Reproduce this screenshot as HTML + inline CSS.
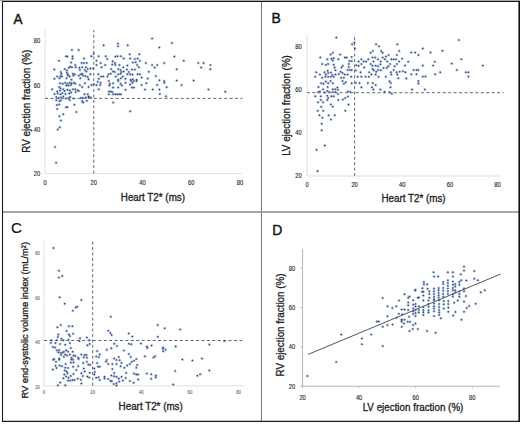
<!DOCTYPE html>
<html><head><meta charset="utf-8"><style>
html,body{margin:0;padding:0;background:#fff;width:520px;height:424px;overflow:hidden}
svg{display:block}
</style></head><body>
<svg width="520" height="424" viewBox="0 0 520 424">
<defs><filter id="bl" x="-10%" y="-10%" width="120%" height="120%"><feGaussianBlur stdDeviation="0.3"/></filter></defs>
<rect x="0" y="0" width="520" height="424" fill="#fff"/>
<line x1="0" y1="0.5" x2="520" y2="0.5" stroke="#aaa" stroke-width="1"/>
<line x1="45" y1="29.5" x2="45" y2="173.5" stroke="#e0e0e0" stroke-width="1"/>
<line x1="45" y1="173.5" x2="242" y2="173.5" stroke="#e0e0e0" stroke-width="1"/>
<text transform="translate(45.0,184.7) scale(0.85,1)" font-family="Liberation Sans, sans-serif" font-size="6.8" fill="#2a2a2a" stroke="#2a2a2a" stroke-width="0.15" text-anchor="middle">0</text>
<text transform="translate(93.8,184.7) scale(0.85,1)" font-family="Liberation Sans, sans-serif" font-size="6.8" fill="#2a2a2a" stroke="#2a2a2a" stroke-width="0.15" text-anchor="middle">20</text>
<text transform="translate(142.5,184.7) scale(0.85,1)" font-family="Liberation Sans, sans-serif" font-size="6.8" fill="#2a2a2a" stroke="#2a2a2a" stroke-width="0.15" text-anchor="middle">40</text>
<text transform="translate(191.2,184.7) scale(0.85,1)" font-family="Liberation Sans, sans-serif" font-size="6.8" fill="#2a2a2a" stroke="#2a2a2a" stroke-width="0.15" text-anchor="middle">60</text>
<text transform="translate(240.0,184.7) scale(0.85,1)" font-family="Liberation Sans, sans-serif" font-size="6.8" fill="#2a2a2a" stroke="#2a2a2a" stroke-width="0.15" text-anchor="middle">80</text>
<text transform="translate(37,175.9) scale(0.85,1)" font-family="Liberation Sans, sans-serif" font-size="6.8" fill="#2a2a2a" stroke="#2a2a2a" stroke-width="0.15" text-anchor="middle">20</text>
<text transform="translate(37,131.8) scale(0.85,1)" font-family="Liberation Sans, sans-serif" font-size="6.8" fill="#2a2a2a" stroke="#2a2a2a" stroke-width="0.15" text-anchor="middle">40</text>
<text transform="translate(37,87.6) scale(0.85,1)" font-family="Liberation Sans, sans-serif" font-size="6.8" fill="#2a2a2a" stroke="#2a2a2a" stroke-width="0.15" text-anchor="middle">60</text>
<text transform="translate(37,43.4) scale(0.85,1)" font-family="Liberation Sans, sans-serif" font-size="6.8" fill="#2a2a2a" stroke="#2a2a2a" stroke-width="0.15" text-anchor="middle">80</text>
<line x1="93.8" y1="173.5" x2="93.8" y2="30.0" stroke="#666" stroke-width="1.0" stroke-dasharray="3.0,2.43"/>
<line x1="45" y1="98.4" x2="242.5" y2="98.4" stroke="#666" stroke-width="1.0" stroke-dasharray="3.0,2.43"/>
<g fill="#6d9ad8" fill-opacity="0.5">
<circle cx="71.9" cy="50.1" r="1.5"/>
<circle cx="78.6" cy="50.1" r="1.5"/>
<circle cx="103.6" cy="45.3" r="1.5"/>
<circle cx="118.0" cy="43.4" r="1.5"/>
<circle cx="118.0" cy="46.3" r="1.5"/>
<circle cx="127.7" cy="45.3" r="1.5"/>
<circle cx="152.1" cy="38.6" r="1.5"/>
<circle cx="171.9" cy="43.0" r="1.5"/>
<circle cx="159.4" cy="47.6" r="1.5"/>
<circle cx="174.4" cy="56.5" r="1.5"/>
<circle cx="183.8" cy="60.7" r="1.5"/>
<circle cx="145.9" cy="63.0" r="1.5"/>
<circle cx="164.2" cy="63.0" r="1.5"/>
<circle cx="152.1" cy="64.9" r="1.5"/>
<circle cx="154.6" cy="67.4" r="1.5"/>
<circle cx="157.1" cy="64.9" r="1.5"/>
<circle cx="198.2" cy="63.0" r="1.5"/>
<circle cx="203.6" cy="63.0" r="1.5"/>
<circle cx="210.3" cy="65.1" r="1.5"/>
<circle cx="201.1" cy="67.4" r="1.5"/>
<circle cx="210.3" cy="69.3" r="1.5"/>
<circle cx="176.7" cy="69.3" r="1.5"/>
<circle cx="148.8" cy="71.8" r="1.5"/>
<circle cx="155.9" cy="76.1" r="1.5"/>
<circle cx="147.8" cy="78.6" r="1.5"/>
<circle cx="159.4" cy="80.3" r="1.5"/>
<circle cx="164.2" cy="80.9" r="1.5"/>
<circle cx="164.2" cy="82.8" r="1.5"/>
<circle cx="176.7" cy="80.5" r="1.5"/>
<circle cx="193.6" cy="80.5" r="1.5"/>
<circle cx="146.3" cy="83.2" r="1.5"/>
<circle cx="157.1" cy="85.1" r="1.5"/>
<circle cx="181.5" cy="85.1" r="1.5"/>
<circle cx="166.7" cy="87.2" r="1.5"/>
<circle cx="145.0" cy="89.5" r="1.5"/>
<circle cx="152.7" cy="89.5" r="1.5"/>
<circle cx="159.4" cy="89.5" r="1.5"/>
<circle cx="208.4" cy="89.5" r="1.5"/>
<circle cx="225.2" cy="91.8" r="1.5"/>
<circle cx="159.8" cy="94.0" r="1.5"/>
<circle cx="166.1" cy="96.3" r="1.5"/>
<circle cx="76.3" cy="111.9" r="1.5"/>
<circle cx="130.2" cy="111.3" r="1.5"/>
<circle cx="59.4" cy="116.2" r="1.5"/>
<circle cx="63.2" cy="114.2" r="1.5"/>
<circle cx="60.9" cy="120.4" r="1.5"/>
<circle cx="59.8" cy="127.3" r="1.5"/>
<circle cx="57.8" cy="129.6" r="1.5"/>
<circle cx="55.0" cy="146.9" r="1.5"/>
<circle cx="56.1" cy="162.7" r="1.5"/>
<circle cx="66.0" cy="56.2" r="1.5"/>
<circle cx="67.4" cy="56.6" r="1.5"/>
<circle cx="72.5" cy="56.2" r="1.5"/>
<circle cx="72.5" cy="58.5" r="1.5"/>
<circle cx="58.9" cy="60.8" r="1.5"/>
<circle cx="84.0" cy="58.5" r="1.5"/>
<circle cx="91.4" cy="56.2" r="1.5"/>
<circle cx="93.7" cy="53.8" r="1.5"/>
<circle cx="71.1" cy="62.6" r="1.5"/>
<circle cx="81.7" cy="63.1" r="1.5"/>
<circle cx="84.0" cy="63.1" r="1.5"/>
<circle cx="86.8" cy="63.1" r="1.5"/>
<circle cx="75.2" cy="64.9" r="1.5"/>
<circle cx="70.2" cy="66.8" r="1.5"/>
<circle cx="68.8" cy="67.7" r="1.5"/>
<circle cx="72.0" cy="67.2" r="1.5"/>
<circle cx="75.7" cy="67.2" r="1.5"/>
<circle cx="79.4" cy="67.7" r="1.5"/>
<circle cx="82.2" cy="67.2" r="1.5"/>
<circle cx="85.9" cy="67.2" r="1.5"/>
<circle cx="87.7" cy="69.1" r="1.5"/>
<circle cx="90.5" cy="68.6" r="1.5"/>
<circle cx="93.2" cy="68.2" r="1.5"/>
<circle cx="54.3" cy="69.4" r="1.5"/>
<circle cx="64.6" cy="69.1" r="1.5"/>
<circle cx="66.9" cy="70.5" r="1.5"/>
<circle cx="79.9" cy="70.0" r="1.5"/>
<circle cx="84.9" cy="70.0" r="1.5"/>
<circle cx="86.3" cy="71.4" r="1.5"/>
<circle cx="60.9" cy="71.9" r="1.5"/>
<circle cx="61.4" cy="73.7" r="1.5"/>
<circle cx="60.5" cy="76.0" r="1.5"/>
<circle cx="61.9" cy="76.5" r="1.5"/>
<circle cx="66.9" cy="72.8" r="1.5"/>
<circle cx="67.9" cy="74.2" r="1.5"/>
<circle cx="67.9" cy="75.5" r="1.5"/>
<circle cx="69.7" cy="76.5" r="1.5"/>
<circle cx="72.9" cy="73.7" r="1.5"/>
<circle cx="74.8" cy="74.2" r="1.5"/>
<circle cx="73.4" cy="75.5" r="1.5"/>
<circle cx="78.9" cy="75.5" r="1.5"/>
<circle cx="80.8" cy="74.2" r="1.5"/>
<circle cx="82.2" cy="73.7" r="1.5"/>
<circle cx="83.1" cy="75.5" r="1.5"/>
<circle cx="85.4" cy="76.0" r="1.5"/>
<circle cx="87.7" cy="76.9" r="1.5"/>
<circle cx="90.5" cy="74.2" r="1.5"/>
<circle cx="57.2" cy="76.5" r="1.5"/>
<circle cx="54.5" cy="78.8" r="1.5"/>
<circle cx="59.5" cy="78.3" r="1.5"/>
<circle cx="66.5" cy="78.3" r="1.5"/>
<circle cx="71.5" cy="79.7" r="1.5"/>
<circle cx="80.3" cy="78.3" r="1.5"/>
<circle cx="88.6" cy="79.2" r="1.5"/>
<circle cx="60.0" cy="83.2" r="1.5"/>
<circle cx="62.8" cy="83.7" r="1.5"/>
<circle cx="65.1" cy="82.8" r="1.5"/>
<circle cx="67.4" cy="83.7" r="1.5"/>
<circle cx="69.7" cy="82.8" r="1.5"/>
<circle cx="71.5" cy="83.2" r="1.5"/>
<circle cx="73.9" cy="82.8" r="1.5"/>
<circle cx="75.2" cy="83.7" r="1.5"/>
<circle cx="66.5" cy="85.5" r="1.5"/>
<circle cx="68.8" cy="85.5" r="1.5"/>
<circle cx="71.1" cy="85.1" r="1.5"/>
<circle cx="79.9" cy="85.1" r="1.5"/>
<circle cx="82.2" cy="86.9" r="1.5"/>
<circle cx="84.9" cy="83.2" r="1.5"/>
<circle cx="88.6" cy="86.9" r="1.5"/>
<circle cx="91.4" cy="85.1" r="1.5"/>
<circle cx="93.7" cy="84.2" r="1.5"/>
<circle cx="59.1" cy="86.9" r="1.5"/>
<circle cx="60.5" cy="88.3" r="1.5"/>
<circle cx="52.2" cy="89.2" r="1.5"/>
<circle cx="57.2" cy="91.5" r="1.5"/>
<circle cx="60.0" cy="90.6" r="1.5"/>
<circle cx="63.2" cy="89.2" r="1.5"/>
<circle cx="64.6" cy="91.1" r="1.5"/>
<circle cx="67.4" cy="89.7" r="1.5"/>
<circle cx="69.7" cy="90.6" r="1.5"/>
<circle cx="72.9" cy="89.2" r="1.5"/>
<circle cx="75.2" cy="89.2" r="1.5"/>
<circle cx="77.5" cy="90.2" r="1.5"/>
<circle cx="78.9" cy="91.1" r="1.5"/>
<circle cx="84.5" cy="94.3" r="1.5"/>
<circle cx="87.7" cy="94.3" r="1.5"/>
<circle cx="88.6" cy="96.6" r="1.5"/>
<circle cx="54.5" cy="93.9" r="1.5"/>
<circle cx="57.7" cy="93.4" r="1.5"/>
<circle cx="60.5" cy="94.3" r="1.5"/>
<circle cx="62.3" cy="92.9" r="1.5"/>
<circle cx="65.5" cy="93.9" r="1.5"/>
<circle cx="69.2" cy="93.4" r="1.5"/>
<circle cx="71.1" cy="92.5" r="1.5"/>
<circle cx="75.7" cy="92.0" r="1.5"/>
<circle cx="56.3" cy="97.1" r="1.5"/>
<circle cx="58.6" cy="98.0" r="1.5"/>
<circle cx="60.9" cy="97.5" r="1.5"/>
<circle cx="63.2" cy="96.6" r="1.5"/>
<circle cx="66.0" cy="98.5" r="1.5"/>
<circle cx="68.8" cy="98.0" r="1.5"/>
<circle cx="70.2" cy="97.1" r="1.5"/>
<circle cx="73.9" cy="98.5" r="1.5"/>
<circle cx="80.8" cy="98.0" r="1.5"/>
<circle cx="82.6" cy="98.0" r="1.5"/>
<circle cx="85.9" cy="97.5" r="1.5"/>
<circle cx="88.6" cy="97.5" r="1.5"/>
<circle cx="90.9" cy="97.5" r="1.5"/>
<circle cx="56.3" cy="100.3" r="1.5"/>
<circle cx="59.5" cy="101.2" r="1.5"/>
<circle cx="60.9" cy="100.3" r="1.5"/>
<circle cx="69.7" cy="99.9" r="1.5"/>
<circle cx="82.2" cy="101.2" r="1.5"/>
<circle cx="83.1" cy="102.6" r="1.5"/>
<circle cx="86.8" cy="100.8" r="1.5"/>
<circle cx="56.8" cy="104.9" r="1.5"/>
<circle cx="59.1" cy="104.5" r="1.5"/>
<circle cx="66.0" cy="107.2" r="1.5"/>
<circle cx="67.4" cy="107.0" r="1.5"/>
<circle cx="74.3" cy="104.7" r="1.5"/>
<circle cx="57.2" cy="109.1" r="1.5"/>
<circle cx="98.6" cy="56.2" r="1.5"/>
<circle cx="105.7" cy="56.2" r="1.5"/>
<circle cx="107.1" cy="58.9" r="1.5"/>
<circle cx="115.4" cy="56.6" r="1.5"/>
<circle cx="117.7" cy="56.2" r="1.5"/>
<circle cx="120.9" cy="56.2" r="1.5"/>
<circle cx="123.7" cy="58.5" r="1.5"/>
<circle cx="129.7" cy="54.3" r="1.5"/>
<circle cx="130.2" cy="58.5" r="1.5"/>
<circle cx="139.4" cy="54.3" r="1.5"/>
<circle cx="134.8" cy="58.9" r="1.5"/>
<circle cx="137.6" cy="58.5" r="1.5"/>
<circle cx="139.9" cy="60.8" r="1.5"/>
<circle cx="132.9" cy="62.6" r="1.5"/>
<circle cx="135.7" cy="62.2" r="1.5"/>
<circle cx="96.5" cy="60.8" r="1.5"/>
<circle cx="100.6" cy="63.1" r="1.5"/>
<circle cx="105.2" cy="64.9" r="1.5"/>
<circle cx="112.6" cy="61.2" r="1.5"/>
<circle cx="112.2" cy="64.5" r="1.5"/>
<circle cx="114.9" cy="63.1" r="1.5"/>
<circle cx="115.4" cy="64.9" r="1.5"/>
<circle cx="119.5" cy="64.9" r="1.5"/>
<circle cx="123.2" cy="67.2" r="1.5"/>
<circle cx="127.4" cy="65.4" r="1.5"/>
<circle cx="137.1" cy="64.9" r="1.5"/>
<circle cx="138.9" cy="67.2" r="1.5"/>
<circle cx="96.5" cy="64.9" r="1.5"/>
<circle cx="101.5" cy="67.2" r="1.5"/>
<circle cx="111.2" cy="69.1" r="1.5"/>
<circle cx="113.1" cy="71.4" r="1.5"/>
<circle cx="114.9" cy="71.9" r="1.5"/>
<circle cx="118.2" cy="69.1" r="1.5"/>
<circle cx="120.5" cy="70.0" r="1.5"/>
<circle cx="121.4" cy="71.9" r="1.5"/>
<circle cx="123.7" cy="71.4" r="1.5"/>
<circle cx="126.9" cy="69.5" r="1.5"/>
<circle cx="128.8" cy="71.9" r="1.5"/>
<circle cx="132.0" cy="69.5" r="1.5"/>
<circle cx="134.8" cy="69.5" r="1.5"/>
<circle cx="137.6" cy="74.2" r="1.5"/>
<circle cx="139.9" cy="74.2" r="1.5"/>
<circle cx="98.3" cy="74.2" r="1.5"/>
<circle cx="101.1" cy="76.5" r="1.5"/>
<circle cx="103.4" cy="76.5" r="1.5"/>
<circle cx="107.5" cy="76.5" r="1.5"/>
<circle cx="108.5" cy="74.2" r="1.5"/>
<circle cx="110.8" cy="73.7" r="1.5"/>
<circle cx="115.9" cy="76.5" r="1.5"/>
<circle cx="118.2" cy="74.2" r="1.5"/>
<circle cx="120.5" cy="73.7" r="1.5"/>
<circle cx="122.8" cy="76.5" r="1.5"/>
<circle cx="127.4" cy="74.2" r="1.5"/>
<circle cx="130.2" cy="74.2" r="1.5"/>
<circle cx="132.5" cy="74.6" r="1.5"/>
<circle cx="98.8" cy="78.8" r="1.5"/>
<circle cx="118.2" cy="79.7" r="1.5"/>
<circle cx="120.9" cy="78.3" r="1.5"/>
<circle cx="125.5" cy="78.8" r="1.5"/>
<circle cx="130.6" cy="79.7" r="1.5"/>
<circle cx="132.9" cy="79.2" r="1.5"/>
<circle cx="136.6" cy="79.7" r="1.5"/>
<circle cx="141.7" cy="77.4" r="1.5"/>
<circle cx="97.8" cy="81.8" r="1.5"/>
<circle cx="100.6" cy="82.8" r="1.5"/>
<circle cx="100.2" cy="85.1" r="1.5"/>
<circle cx="96.5" cy="85.1" r="1.5"/>
<circle cx="98.8" cy="89.2" r="1.5"/>
<circle cx="108.9" cy="80.9" r="1.5"/>
<circle cx="109.9" cy="83.7" r="1.5"/>
<circle cx="109.4" cy="85.5" r="1.5"/>
<circle cx="113.1" cy="83.2" r="1.5"/>
<circle cx="113.1" cy="87.4" r="1.5"/>
<circle cx="118.2" cy="80.9" r="1.5"/>
<circle cx="118.2" cy="87.4" r="1.5"/>
<circle cx="120.5" cy="83.7" r="1.5"/>
<circle cx="121.9" cy="85.5" r="1.5"/>
<circle cx="125.5" cy="82.8" r="1.5"/>
<circle cx="125.5" cy="89.7" r="1.5"/>
<circle cx="130.2" cy="84.6" r="1.5"/>
<circle cx="132.0" cy="87.4" r="1.5"/>
<circle cx="133.9" cy="87.4" r="1.5"/>
<circle cx="131.1" cy="80.9" r="1.5"/>
<circle cx="133.9" cy="80.9" r="1.5"/>
<circle cx="136.6" cy="80.9" r="1.5"/>
<circle cx="132.5" cy="82.8" r="1.5"/>
<circle cx="141.7" cy="85.1" r="1.5"/>
<circle cx="108.9" cy="91.5" r="1.5"/>
<circle cx="110.8" cy="91.5" r="1.5"/>
<circle cx="112.2" cy="92.0" r="1.5"/>
<circle cx="108.9" cy="94.3" r="1.5"/>
<circle cx="113.1" cy="94.3" r="1.5"/>
<circle cx="115.4" cy="94.3" r="1.5"/>
<circle cx="117.2" cy="94.3" r="1.5"/>
<circle cx="119.1" cy="94.3" r="1.5"/>
<circle cx="120.9" cy="94.3" r="1.5"/>
<circle cx="113.1" cy="102.6" r="1.5"/>
</g>
<g fill="#2e3850" filter="url(#bl)">
<circle cx="71.9" cy="50.1" r="0.75"/>
<circle cx="78.6" cy="50.1" r="0.75"/>
<circle cx="103.6" cy="45.3" r="0.75"/>
<circle cx="118.0" cy="43.4" r="0.75"/>
<circle cx="118.0" cy="46.3" r="0.75"/>
<circle cx="127.7" cy="45.3" r="0.75"/>
<circle cx="152.1" cy="38.6" r="0.75"/>
<circle cx="171.9" cy="43.0" r="0.75"/>
<circle cx="159.4" cy="47.6" r="0.75"/>
<circle cx="174.4" cy="56.5" r="0.75"/>
<circle cx="183.8" cy="60.7" r="0.75"/>
<circle cx="145.9" cy="63.0" r="0.75"/>
<circle cx="164.2" cy="63.0" r="0.75"/>
<circle cx="152.1" cy="64.9" r="0.75"/>
<circle cx="154.6" cy="67.4" r="0.75"/>
<circle cx="157.1" cy="64.9" r="0.75"/>
<circle cx="198.2" cy="63.0" r="0.75"/>
<circle cx="203.6" cy="63.0" r="0.75"/>
<circle cx="210.3" cy="65.1" r="0.75"/>
<circle cx="201.1" cy="67.4" r="0.75"/>
<circle cx="210.3" cy="69.3" r="0.75"/>
<circle cx="176.7" cy="69.3" r="0.75"/>
<circle cx="148.8" cy="71.8" r="0.75"/>
<circle cx="155.9" cy="76.1" r="0.75"/>
<circle cx="147.8" cy="78.6" r="0.75"/>
<circle cx="159.4" cy="80.3" r="0.75"/>
<circle cx="164.2" cy="80.9" r="0.75"/>
<circle cx="164.2" cy="82.8" r="0.75"/>
<circle cx="176.7" cy="80.5" r="0.75"/>
<circle cx="193.6" cy="80.5" r="0.75"/>
<circle cx="146.3" cy="83.2" r="0.75"/>
<circle cx="157.1" cy="85.1" r="0.75"/>
<circle cx="181.5" cy="85.1" r="0.75"/>
<circle cx="166.7" cy="87.2" r="0.75"/>
<circle cx="145.0" cy="89.5" r="0.75"/>
<circle cx="152.7" cy="89.5" r="0.75"/>
<circle cx="159.4" cy="89.5" r="0.75"/>
<circle cx="208.4" cy="89.5" r="0.75"/>
<circle cx="225.2" cy="91.8" r="0.75"/>
<circle cx="159.8" cy="94.0" r="0.75"/>
<circle cx="166.1" cy="96.3" r="0.75"/>
<circle cx="76.3" cy="111.9" r="0.75"/>
<circle cx="130.2" cy="111.3" r="0.75"/>
<circle cx="59.4" cy="116.2" r="0.75"/>
<circle cx="63.2" cy="114.2" r="0.75"/>
<circle cx="60.9" cy="120.4" r="0.75"/>
<circle cx="59.8" cy="127.3" r="0.75"/>
<circle cx="57.8" cy="129.6" r="0.75"/>
<circle cx="55.0" cy="146.9" r="0.75"/>
<circle cx="56.1" cy="162.7" r="0.75"/>
<circle cx="66.0" cy="56.2" r="0.75"/>
<circle cx="67.4" cy="56.6" r="0.75"/>
<circle cx="72.5" cy="56.2" r="0.75"/>
<circle cx="72.5" cy="58.5" r="0.75"/>
<circle cx="58.9" cy="60.8" r="0.75"/>
<circle cx="84.0" cy="58.5" r="0.75"/>
<circle cx="91.4" cy="56.2" r="0.75"/>
<circle cx="93.7" cy="53.8" r="0.75"/>
<circle cx="71.1" cy="62.6" r="0.75"/>
<circle cx="81.7" cy="63.1" r="0.75"/>
<circle cx="84.0" cy="63.1" r="0.75"/>
<circle cx="86.8" cy="63.1" r="0.75"/>
<circle cx="75.2" cy="64.9" r="0.75"/>
<circle cx="70.2" cy="66.8" r="0.75"/>
<circle cx="68.8" cy="67.7" r="0.75"/>
<circle cx="72.0" cy="67.2" r="0.75"/>
<circle cx="75.7" cy="67.2" r="0.75"/>
<circle cx="79.4" cy="67.7" r="0.75"/>
<circle cx="82.2" cy="67.2" r="0.75"/>
<circle cx="85.9" cy="67.2" r="0.75"/>
<circle cx="87.7" cy="69.1" r="0.75"/>
<circle cx="90.5" cy="68.6" r="0.75"/>
<circle cx="93.2" cy="68.2" r="0.75"/>
<circle cx="54.3" cy="69.4" r="0.75"/>
<circle cx="64.6" cy="69.1" r="0.75"/>
<circle cx="66.9" cy="70.5" r="0.75"/>
<circle cx="79.9" cy="70.0" r="0.75"/>
<circle cx="84.9" cy="70.0" r="0.75"/>
<circle cx="86.3" cy="71.4" r="0.75"/>
<circle cx="60.9" cy="71.9" r="0.75"/>
<circle cx="61.4" cy="73.7" r="0.75"/>
<circle cx="60.5" cy="76.0" r="0.75"/>
<circle cx="61.9" cy="76.5" r="0.75"/>
<circle cx="66.9" cy="72.8" r="0.75"/>
<circle cx="67.9" cy="74.2" r="0.75"/>
<circle cx="67.9" cy="75.5" r="0.75"/>
<circle cx="69.7" cy="76.5" r="0.75"/>
<circle cx="72.9" cy="73.7" r="0.75"/>
<circle cx="74.8" cy="74.2" r="0.75"/>
<circle cx="73.4" cy="75.5" r="0.75"/>
<circle cx="78.9" cy="75.5" r="0.75"/>
<circle cx="80.8" cy="74.2" r="0.75"/>
<circle cx="82.2" cy="73.7" r="0.75"/>
<circle cx="83.1" cy="75.5" r="0.75"/>
<circle cx="85.4" cy="76.0" r="0.75"/>
<circle cx="87.7" cy="76.9" r="0.75"/>
<circle cx="90.5" cy="74.2" r="0.75"/>
<circle cx="57.2" cy="76.5" r="0.75"/>
<circle cx="54.5" cy="78.8" r="0.75"/>
<circle cx="59.5" cy="78.3" r="0.75"/>
<circle cx="66.5" cy="78.3" r="0.75"/>
<circle cx="71.5" cy="79.7" r="0.75"/>
<circle cx="80.3" cy="78.3" r="0.75"/>
<circle cx="88.6" cy="79.2" r="0.75"/>
<circle cx="60.0" cy="83.2" r="0.75"/>
<circle cx="62.8" cy="83.7" r="0.75"/>
<circle cx="65.1" cy="82.8" r="0.75"/>
<circle cx="67.4" cy="83.7" r="0.75"/>
<circle cx="69.7" cy="82.8" r="0.75"/>
<circle cx="71.5" cy="83.2" r="0.75"/>
<circle cx="73.9" cy="82.8" r="0.75"/>
<circle cx="75.2" cy="83.7" r="0.75"/>
<circle cx="66.5" cy="85.5" r="0.75"/>
<circle cx="68.8" cy="85.5" r="0.75"/>
<circle cx="71.1" cy="85.1" r="0.75"/>
<circle cx="79.9" cy="85.1" r="0.75"/>
<circle cx="82.2" cy="86.9" r="0.75"/>
<circle cx="84.9" cy="83.2" r="0.75"/>
<circle cx="88.6" cy="86.9" r="0.75"/>
<circle cx="91.4" cy="85.1" r="0.75"/>
<circle cx="93.7" cy="84.2" r="0.75"/>
<circle cx="59.1" cy="86.9" r="0.75"/>
<circle cx="60.5" cy="88.3" r="0.75"/>
<circle cx="52.2" cy="89.2" r="0.75"/>
<circle cx="57.2" cy="91.5" r="0.75"/>
<circle cx="60.0" cy="90.6" r="0.75"/>
<circle cx="63.2" cy="89.2" r="0.75"/>
<circle cx="64.6" cy="91.1" r="0.75"/>
<circle cx="67.4" cy="89.7" r="0.75"/>
<circle cx="69.7" cy="90.6" r="0.75"/>
<circle cx="72.9" cy="89.2" r="0.75"/>
<circle cx="75.2" cy="89.2" r="0.75"/>
<circle cx="77.5" cy="90.2" r="0.75"/>
<circle cx="78.9" cy="91.1" r="0.75"/>
<circle cx="84.5" cy="94.3" r="0.75"/>
<circle cx="87.7" cy="94.3" r="0.75"/>
<circle cx="88.6" cy="96.6" r="0.75"/>
<circle cx="54.5" cy="93.9" r="0.75"/>
<circle cx="57.7" cy="93.4" r="0.75"/>
<circle cx="60.5" cy="94.3" r="0.75"/>
<circle cx="62.3" cy="92.9" r="0.75"/>
<circle cx="65.5" cy="93.9" r="0.75"/>
<circle cx="69.2" cy="93.4" r="0.75"/>
<circle cx="71.1" cy="92.5" r="0.75"/>
<circle cx="75.7" cy="92.0" r="0.75"/>
<circle cx="56.3" cy="97.1" r="0.75"/>
<circle cx="58.6" cy="98.0" r="0.75"/>
<circle cx="60.9" cy="97.5" r="0.75"/>
<circle cx="63.2" cy="96.6" r="0.75"/>
<circle cx="66.0" cy="98.5" r="0.75"/>
<circle cx="68.8" cy="98.0" r="0.75"/>
<circle cx="70.2" cy="97.1" r="0.75"/>
<circle cx="73.9" cy="98.5" r="0.75"/>
<circle cx="80.8" cy="98.0" r="0.75"/>
<circle cx="82.6" cy="98.0" r="0.75"/>
<circle cx="85.9" cy="97.5" r="0.75"/>
<circle cx="88.6" cy="97.5" r="0.75"/>
<circle cx="90.9" cy="97.5" r="0.75"/>
<circle cx="56.3" cy="100.3" r="0.75"/>
<circle cx="59.5" cy="101.2" r="0.75"/>
<circle cx="60.9" cy="100.3" r="0.75"/>
<circle cx="69.7" cy="99.9" r="0.75"/>
<circle cx="82.2" cy="101.2" r="0.75"/>
<circle cx="83.1" cy="102.6" r="0.75"/>
<circle cx="86.8" cy="100.8" r="0.75"/>
<circle cx="56.8" cy="104.9" r="0.75"/>
<circle cx="59.1" cy="104.5" r="0.75"/>
<circle cx="66.0" cy="107.2" r="0.75"/>
<circle cx="67.4" cy="107.0" r="0.75"/>
<circle cx="74.3" cy="104.7" r="0.75"/>
<circle cx="57.2" cy="109.1" r="0.75"/>
<circle cx="98.6" cy="56.2" r="0.75"/>
<circle cx="105.7" cy="56.2" r="0.75"/>
<circle cx="107.1" cy="58.9" r="0.75"/>
<circle cx="115.4" cy="56.6" r="0.75"/>
<circle cx="117.7" cy="56.2" r="0.75"/>
<circle cx="120.9" cy="56.2" r="0.75"/>
<circle cx="123.7" cy="58.5" r="0.75"/>
<circle cx="129.7" cy="54.3" r="0.75"/>
<circle cx="130.2" cy="58.5" r="0.75"/>
<circle cx="139.4" cy="54.3" r="0.75"/>
<circle cx="134.8" cy="58.9" r="0.75"/>
<circle cx="137.6" cy="58.5" r="0.75"/>
<circle cx="139.9" cy="60.8" r="0.75"/>
<circle cx="132.9" cy="62.6" r="0.75"/>
<circle cx="135.7" cy="62.2" r="0.75"/>
<circle cx="96.5" cy="60.8" r="0.75"/>
<circle cx="100.6" cy="63.1" r="0.75"/>
<circle cx="105.2" cy="64.9" r="0.75"/>
<circle cx="112.6" cy="61.2" r="0.75"/>
<circle cx="112.2" cy="64.5" r="0.75"/>
<circle cx="114.9" cy="63.1" r="0.75"/>
<circle cx="115.4" cy="64.9" r="0.75"/>
<circle cx="119.5" cy="64.9" r="0.75"/>
<circle cx="123.2" cy="67.2" r="0.75"/>
<circle cx="127.4" cy="65.4" r="0.75"/>
<circle cx="137.1" cy="64.9" r="0.75"/>
<circle cx="138.9" cy="67.2" r="0.75"/>
<circle cx="96.5" cy="64.9" r="0.75"/>
<circle cx="101.5" cy="67.2" r="0.75"/>
<circle cx="111.2" cy="69.1" r="0.75"/>
<circle cx="113.1" cy="71.4" r="0.75"/>
<circle cx="114.9" cy="71.9" r="0.75"/>
<circle cx="118.2" cy="69.1" r="0.75"/>
<circle cx="120.5" cy="70.0" r="0.75"/>
<circle cx="121.4" cy="71.9" r="0.75"/>
<circle cx="123.7" cy="71.4" r="0.75"/>
<circle cx="126.9" cy="69.5" r="0.75"/>
<circle cx="128.8" cy="71.9" r="0.75"/>
<circle cx="132.0" cy="69.5" r="0.75"/>
<circle cx="134.8" cy="69.5" r="0.75"/>
<circle cx="137.6" cy="74.2" r="0.75"/>
<circle cx="139.9" cy="74.2" r="0.75"/>
<circle cx="98.3" cy="74.2" r="0.75"/>
<circle cx="101.1" cy="76.5" r="0.75"/>
<circle cx="103.4" cy="76.5" r="0.75"/>
<circle cx="107.5" cy="76.5" r="0.75"/>
<circle cx="108.5" cy="74.2" r="0.75"/>
<circle cx="110.8" cy="73.7" r="0.75"/>
<circle cx="115.9" cy="76.5" r="0.75"/>
<circle cx="118.2" cy="74.2" r="0.75"/>
<circle cx="120.5" cy="73.7" r="0.75"/>
<circle cx="122.8" cy="76.5" r="0.75"/>
<circle cx="127.4" cy="74.2" r="0.75"/>
<circle cx="130.2" cy="74.2" r="0.75"/>
<circle cx="132.5" cy="74.6" r="0.75"/>
<circle cx="98.8" cy="78.8" r="0.75"/>
<circle cx="118.2" cy="79.7" r="0.75"/>
<circle cx="120.9" cy="78.3" r="0.75"/>
<circle cx="125.5" cy="78.8" r="0.75"/>
<circle cx="130.6" cy="79.7" r="0.75"/>
<circle cx="132.9" cy="79.2" r="0.75"/>
<circle cx="136.6" cy="79.7" r="0.75"/>
<circle cx="141.7" cy="77.4" r="0.75"/>
<circle cx="97.8" cy="81.8" r="0.75"/>
<circle cx="100.6" cy="82.8" r="0.75"/>
<circle cx="100.2" cy="85.1" r="0.75"/>
<circle cx="96.5" cy="85.1" r="0.75"/>
<circle cx="98.8" cy="89.2" r="0.75"/>
<circle cx="108.9" cy="80.9" r="0.75"/>
<circle cx="109.9" cy="83.7" r="0.75"/>
<circle cx="109.4" cy="85.5" r="0.75"/>
<circle cx="113.1" cy="83.2" r="0.75"/>
<circle cx="113.1" cy="87.4" r="0.75"/>
<circle cx="118.2" cy="80.9" r="0.75"/>
<circle cx="118.2" cy="87.4" r="0.75"/>
<circle cx="120.5" cy="83.7" r="0.75"/>
<circle cx="121.9" cy="85.5" r="0.75"/>
<circle cx="125.5" cy="82.8" r="0.75"/>
<circle cx="125.5" cy="89.7" r="0.75"/>
<circle cx="130.2" cy="84.6" r="0.75"/>
<circle cx="132.0" cy="87.4" r="0.75"/>
<circle cx="133.9" cy="87.4" r="0.75"/>
<circle cx="131.1" cy="80.9" r="0.75"/>
<circle cx="133.9" cy="80.9" r="0.75"/>
<circle cx="136.6" cy="80.9" r="0.75"/>
<circle cx="132.5" cy="82.8" r="0.75"/>
<circle cx="141.7" cy="85.1" r="0.75"/>
<circle cx="108.9" cy="91.5" r="0.75"/>
<circle cx="110.8" cy="91.5" r="0.75"/>
<circle cx="112.2" cy="92.0" r="0.75"/>
<circle cx="108.9" cy="94.3" r="0.75"/>
<circle cx="113.1" cy="94.3" r="0.75"/>
<circle cx="115.4" cy="94.3" r="0.75"/>
<circle cx="117.2" cy="94.3" r="0.75"/>
<circle cx="119.1" cy="94.3" r="0.75"/>
<circle cx="120.9" cy="94.3" r="0.75"/>
<circle cx="113.1" cy="102.6" r="0.75"/>
</g>
<text transform="translate(13.6,24.2) scale(0.88,1)" font-family="Liberation Sans, sans-serif" font-size="15.4" fill="#111" stroke="#111" stroke-width="0.45">A</text>
<text transform="translate(152.9,200.8) scale(0.91,1)" font-family="Liberation Sans, sans-serif" font-size="10.8" fill="#1e1e1e" stroke="#1e1e1e" stroke-width="0.32" text-anchor="middle">Heart T2* (ms)</text>
<text transform="translate(29.5,101.3) rotate(-90) scale(0.91,1)" font-family="Liberation Sans, sans-serif" font-size="10.8" fill="#1e1e1e" stroke="#1e1e1e" stroke-width="0.32" text-anchor="middle">RV ejection fraction (%)</text>
<line x1="307.0" y1="34" x2="307.0" y2="176.0" stroke="#e0e0e0" stroke-width="1"/>
<line x1="307.0" y1="176.0" x2="500" y2="176.0" stroke="#e0e0e0" stroke-width="1"/>
<text transform="translate(307.0,186.7) scale(0.85,1)" font-family="Liberation Sans, sans-serif" font-size="6.8" fill="#2a2a2a" stroke="#2a2a2a" stroke-width="0.15" text-anchor="middle">0</text>
<text transform="translate(354.6,186.7) scale(0.85,1)" font-family="Liberation Sans, sans-serif" font-size="6.8" fill="#2a2a2a" stroke="#2a2a2a" stroke-width="0.15" text-anchor="middle">20</text>
<text transform="translate(402.2,186.7) scale(0.85,1)" font-family="Liberation Sans, sans-serif" font-size="6.8" fill="#2a2a2a" stroke="#2a2a2a" stroke-width="0.15" text-anchor="middle">40</text>
<text transform="translate(449.9,186.7) scale(0.85,1)" font-family="Liberation Sans, sans-serif" font-size="6.8" fill="#2a2a2a" stroke="#2a2a2a" stroke-width="0.15" text-anchor="middle">60</text>
<text transform="translate(497.5,186.7) scale(0.85,1)" font-family="Liberation Sans, sans-serif" font-size="6.8" fill="#2a2a2a" stroke="#2a2a2a" stroke-width="0.15" text-anchor="middle">80</text>
<text transform="translate(298.5,178.4) scale(0.85,1)" font-family="Liberation Sans, sans-serif" font-size="6.8" fill="#2a2a2a" stroke="#2a2a2a" stroke-width="0.15" text-anchor="middle">20</text>
<text transform="translate(298.5,135.2) scale(0.85,1)" font-family="Liberation Sans, sans-serif" font-size="6.8" fill="#2a2a2a" stroke="#2a2a2a" stroke-width="0.15" text-anchor="middle">40</text>
<text transform="translate(298.5,92.0) scale(0.85,1)" font-family="Liberation Sans, sans-serif" font-size="6.8" fill="#2a2a2a" stroke="#2a2a2a" stroke-width="0.15" text-anchor="middle">60</text>
<text transform="translate(298.5,48.7) scale(0.85,1)" font-family="Liberation Sans, sans-serif" font-size="6.8" fill="#2a2a2a" stroke="#2a2a2a" stroke-width="0.15" text-anchor="middle">80</text>
<line x1="354.6" y1="176.0" x2="354.6" y2="34.5" stroke="#666" stroke-width="1.0" stroke-dasharray="3.0,2.43"/>
<line x1="307.0" y1="92.7" x2="503.5" y2="92.7" stroke="#666" stroke-width="1.0" stroke-dasharray="3.0,2.43"/>
<g fill="#6d9ad8" fill-opacity="0.5">
<circle cx="336.3" cy="37.6" r="1.5"/>
<circle cx="352.1" cy="44.3" r="1.5"/>
<circle cx="354.4" cy="42.4" r="1.5"/>
<circle cx="355.0" cy="48.2" r="1.5"/>
<circle cx="376.1" cy="44.3" r="1.5"/>
<circle cx="379.0" cy="46.3" r="1.5"/>
<circle cx="397.3" cy="44.3" r="1.5"/>
<circle cx="402.1" cy="58.8" r="1.5"/>
<circle cx="403.0" cy="71.3" r="1.5"/>
<circle cx="458.8" cy="39.9" r="1.5"/>
<circle cx="422.8" cy="48.6" r="1.5"/>
<circle cx="411.3" cy="52.6" r="1.5"/>
<circle cx="415.2" cy="52.6" r="1.5"/>
<circle cx="418.4" cy="54.9" r="1.5"/>
<circle cx="430.5" cy="52.6" r="1.5"/>
<circle cx="442.5" cy="50.7" r="1.5"/>
<circle cx="461.3" cy="59.2" r="1.5"/>
<circle cx="408.2" cy="61.7" r="1.5"/>
<circle cx="434.8" cy="61.7" r="1.5"/>
<circle cx="451.7" cy="63.6" r="1.5"/>
<circle cx="405.0" cy="65.5" r="1.5"/>
<circle cx="422.8" cy="65.5" r="1.5"/>
<circle cx="433.2" cy="65.5" r="1.5"/>
<circle cx="482.8" cy="65.5" r="1.5"/>
<circle cx="413.6" cy="69.9" r="1.5"/>
<circle cx="416.5" cy="69.9" r="1.5"/>
<circle cx="418.4" cy="69.9" r="1.5"/>
<circle cx="456.9" cy="69.9" r="1.5"/>
<circle cx="405.5" cy="72.2" r="1.5"/>
<circle cx="411.3" cy="74.2" r="1.5"/>
<circle cx="416.5" cy="74.2" r="1.5"/>
<circle cx="435.2" cy="74.2" r="1.5"/>
<circle cx="440.2" cy="72.2" r="1.5"/>
<circle cx="465.9" cy="72.2" r="1.5"/>
<circle cx="468.4" cy="72.2" r="1.5"/>
<circle cx="406.3" cy="78.4" r="1.5"/>
<circle cx="422.8" cy="76.5" r="1.5"/>
<circle cx="425.5" cy="76.5" r="1.5"/>
<circle cx="468.4" cy="76.5" r="1.5"/>
<circle cx="418.4" cy="80.9" r="1.5"/>
<circle cx="418.4" cy="83.4" r="1.5"/>
<circle cx="412.1" cy="89.5" r="1.5"/>
<circle cx="424.8" cy="89.5" r="1.5"/>
<circle cx="317.8" cy="110.8" r="1.5"/>
<circle cx="323.2" cy="110.8" r="1.5"/>
<circle cx="345.3" cy="110.8" r="1.5"/>
<circle cx="319.4" cy="115.2" r="1.5"/>
<circle cx="322.3" cy="117.7" r="1.5"/>
<circle cx="328.6" cy="115.2" r="1.5"/>
<circle cx="334.8" cy="115.2" r="1.5"/>
<circle cx="330.9" cy="119.6" r="1.5"/>
<circle cx="321.7" cy="123.8" r="1.5"/>
<circle cx="321.7" cy="130.2" r="1.5"/>
<circle cx="324.8" cy="145.4" r="1.5"/>
<circle cx="316.5" cy="149.8" r="1.5"/>
<circle cx="317.5" cy="171.0" r="1.5"/>
<circle cx="332.8" cy="52.8" r="1.5"/>
<circle cx="330.5" cy="54.6" r="1.5"/>
<circle cx="340.2" cy="54.6" r="1.5"/>
<circle cx="320.3" cy="57.4" r="1.5"/>
<circle cx="327.2" cy="59.2" r="1.5"/>
<circle cx="331.4" cy="58.8" r="1.5"/>
<circle cx="333.7" cy="58.3" r="1.5"/>
<circle cx="332.8" cy="60.6" r="1.5"/>
<circle cx="338.3" cy="59.2" r="1.5"/>
<circle cx="344.8" cy="57.4" r="1.5"/>
<circle cx="346.6" cy="57.4" r="1.5"/>
<circle cx="351.7" cy="56.9" r="1.5"/>
<circle cx="322.2" cy="63.9" r="1.5"/>
<circle cx="325.9" cy="64.8" r="1.5"/>
<circle cx="328.2" cy="63.9" r="1.5"/>
<circle cx="333.7" cy="64.8" r="1.5"/>
<circle cx="334.6" cy="67.5" r="1.5"/>
<circle cx="341.5" cy="67.5" r="1.5"/>
<circle cx="342.9" cy="65.7" r="1.5"/>
<circle cx="348.9" cy="63.9" r="1.5"/>
<circle cx="349.4" cy="61.1" r="1.5"/>
<circle cx="351.7" cy="61.1" r="1.5"/>
<circle cx="347.6" cy="69.9" r="1.5"/>
<circle cx="349.9" cy="69.9" r="1.5"/>
<circle cx="351.7" cy="69.9" r="1.5"/>
<circle cx="348.9" cy="67.1" r="1.5"/>
<circle cx="316.2" cy="72.2" r="1.5"/>
<circle cx="319.9" cy="74.5" r="1.5"/>
<circle cx="324.5" cy="72.2" r="1.5"/>
<circle cx="325.9" cy="74.5" r="1.5"/>
<circle cx="327.7" cy="70.8" r="1.5"/>
<circle cx="328.2" cy="73.1" r="1.5"/>
<circle cx="330.9" cy="72.6" r="1.5"/>
<circle cx="332.3" cy="74.9" r="1.5"/>
<circle cx="335.5" cy="74.5" r="1.5"/>
<circle cx="335.5" cy="70.3" r="1.5"/>
<circle cx="338.8" cy="74.0" r="1.5"/>
<circle cx="340.6" cy="71.7" r="1.5"/>
<circle cx="342.5" cy="73.1" r="1.5"/>
<circle cx="344.8" cy="74.5" r="1.5"/>
<circle cx="347.6" cy="74.5" r="1.5"/>
<circle cx="351.2" cy="76.8" r="1.5"/>
<circle cx="315.2" cy="76.8" r="1.5"/>
<circle cx="322.2" cy="77.7" r="1.5"/>
<circle cx="325.4" cy="76.8" r="1.5"/>
<circle cx="328.2" cy="76.8" r="1.5"/>
<circle cx="330.9" cy="76.8" r="1.5"/>
<circle cx="333.7" cy="76.8" r="1.5"/>
<circle cx="341.1" cy="77.7" r="1.5"/>
<circle cx="343.9" cy="77.7" r="1.5"/>
<circle cx="321.2" cy="83.2" r="1.5"/>
<circle cx="323.5" cy="83.7" r="1.5"/>
<circle cx="325.9" cy="81.4" r="1.5"/>
<circle cx="328.2" cy="83.2" r="1.5"/>
<circle cx="330.5" cy="80.9" r="1.5"/>
<circle cx="332.8" cy="83.2" r="1.5"/>
<circle cx="342.5" cy="80.9" r="1.5"/>
<circle cx="343.9" cy="83.7" r="1.5"/>
<circle cx="345.7" cy="82.3" r="1.5"/>
<circle cx="351.7" cy="83.2" r="1.5"/>
<circle cx="318.5" cy="86.9" r="1.5"/>
<circle cx="323.1" cy="89.2" r="1.5"/>
<circle cx="327.7" cy="86.9" r="1.5"/>
<circle cx="332.8" cy="89.2" r="1.5"/>
<circle cx="335.1" cy="89.2" r="1.5"/>
<circle cx="337.4" cy="87.4" r="1.5"/>
<circle cx="337.9" cy="89.7" r="1.5"/>
<circle cx="318.0" cy="92.0" r="1.5"/>
<circle cx="319.9" cy="91.5" r="1.5"/>
<circle cx="324.5" cy="92.5" r="1.5"/>
<circle cx="327.2" cy="91.1" r="1.5"/>
<circle cx="329.1" cy="92.0" r="1.5"/>
<circle cx="332.8" cy="92.0" r="1.5"/>
<circle cx="335.5" cy="92.0" r="1.5"/>
<circle cx="337.9" cy="93.9" r="1.5"/>
<circle cx="348.0" cy="91.5" r="1.5"/>
<circle cx="350.3" cy="92.0" r="1.5"/>
<circle cx="315.2" cy="96.2" r="1.5"/>
<circle cx="320.8" cy="96.2" r="1.5"/>
<circle cx="327.2" cy="95.7" r="1.5"/>
<circle cx="331.4" cy="96.2" r="1.5"/>
<circle cx="333.7" cy="96.2" r="1.5"/>
<circle cx="328.2" cy="98.0" r="1.5"/>
<circle cx="345.2" cy="98.0" r="1.5"/>
<circle cx="348.0" cy="96.6" r="1.5"/>
<circle cx="320.8" cy="99.9" r="1.5"/>
<circle cx="327.2" cy="99.9" r="1.5"/>
<circle cx="338.3" cy="99.9" r="1.5"/>
<circle cx="342.9" cy="99.4" r="1.5"/>
<circle cx="318.0" cy="102.2" r="1.5"/>
<circle cx="323.1" cy="102.2" r="1.5"/>
<circle cx="330.9" cy="104.5" r="1.5"/>
<circle cx="332.8" cy="106.8" r="1.5"/>
<circle cx="321.2" cy="106.8" r="1.5"/>
<circle cx="348.5" cy="104.5" r="1.5"/>
<circle cx="370.6" cy="52.8" r="1.5"/>
<circle cx="372.9" cy="50.9" r="1.5"/>
<circle cx="381.2" cy="50.9" r="1.5"/>
<circle cx="382.6" cy="52.8" r="1.5"/>
<circle cx="399.2" cy="50.9" r="1.5"/>
<circle cx="396.9" cy="55.1" r="1.5"/>
<circle cx="361.4" cy="59.2" r="1.5"/>
<circle cx="368.3" cy="59.2" r="1.5"/>
<circle cx="372.5" cy="57.4" r="1.5"/>
<circle cx="375.2" cy="57.4" r="1.5"/>
<circle cx="378.0" cy="59.2" r="1.5"/>
<circle cx="382.6" cy="57.4" r="1.5"/>
<circle cx="385.9" cy="56.5" r="1.5"/>
<circle cx="388.6" cy="55.1" r="1.5"/>
<circle cx="384.9" cy="59.2" r="1.5"/>
<circle cx="391.4" cy="59.2" r="1.5"/>
<circle cx="393.7" cy="59.2" r="1.5"/>
<circle cx="396.0" cy="59.2" r="1.5"/>
<circle cx="399.2" cy="61.5" r="1.5"/>
<circle cx="358.6" cy="61.5" r="1.5"/>
<circle cx="363.7" cy="61.5" r="1.5"/>
<circle cx="366.0" cy="61.5" r="1.5"/>
<circle cx="373.4" cy="61.5" r="1.5"/>
<circle cx="370.6" cy="63.9" r="1.5"/>
<circle cx="380.8" cy="61.5" r="1.5"/>
<circle cx="387.2" cy="61.5" r="1.5"/>
<circle cx="396.9" cy="63.9" r="1.5"/>
<circle cx="356.3" cy="65.2" r="1.5"/>
<circle cx="358.6" cy="65.7" r="1.5"/>
<circle cx="361.4" cy="63.9" r="1.5"/>
<circle cx="364.2" cy="67.5" r="1.5"/>
<circle cx="372.5" cy="65.7" r="1.5"/>
<circle cx="375.7" cy="65.7" r="1.5"/>
<circle cx="378.0" cy="66.2" r="1.5"/>
<circle cx="380.3" cy="64.3" r="1.5"/>
<circle cx="383.5" cy="68.0" r="1.5"/>
<circle cx="388.2" cy="66.2" r="1.5"/>
<circle cx="390.0" cy="63.9" r="1.5"/>
<circle cx="394.6" cy="66.2" r="1.5"/>
<circle cx="355.8" cy="70.3" r="1.5"/>
<circle cx="360.5" cy="72.2" r="1.5"/>
<circle cx="369.2" cy="72.2" r="1.5"/>
<circle cx="372.5" cy="68.9" r="1.5"/>
<circle cx="373.9" cy="70.3" r="1.5"/>
<circle cx="376.2" cy="71.7" r="1.5"/>
<circle cx="378.0" cy="69.9" r="1.5"/>
<circle cx="380.8" cy="70.3" r="1.5"/>
<circle cx="386.8" cy="68.0" r="1.5"/>
<circle cx="390.9" cy="72.2" r="1.5"/>
<circle cx="393.7" cy="69.9" r="1.5"/>
<circle cx="396.5" cy="72.2" r="1.5"/>
<circle cx="399.7" cy="71.7" r="1.5"/>
<circle cx="357.7" cy="76.8" r="1.5"/>
<circle cx="361.4" cy="76.8" r="1.5"/>
<circle cx="365.5" cy="76.8" r="1.5"/>
<circle cx="368.8" cy="76.8" r="1.5"/>
<circle cx="371.5" cy="74.5" r="1.5"/>
<circle cx="375.7" cy="74.5" r="1.5"/>
<circle cx="378.5" cy="76.8" r="1.5"/>
<circle cx="385.9" cy="76.8" r="1.5"/>
<circle cx="391.4" cy="74.5" r="1.5"/>
<circle cx="397.4" cy="74.5" r="1.5"/>
<circle cx="398.3" cy="78.2" r="1.5"/>
<circle cx="355.8" cy="83.0" r="1.5"/>
<circle cx="359.5" cy="83.0" r="1.5"/>
<circle cx="367.9" cy="83.0" r="1.5"/>
<circle cx="372.9" cy="83.0" r="1.5"/>
<circle cx="375.7" cy="84.9" r="1.5"/>
<circle cx="361.4" cy="87.2" r="1.5"/>
<circle cx="372.0" cy="87.2" r="1.5"/>
<circle cx="373.4" cy="89.5" r="1.5"/>
<circle cx="380.3" cy="89.5" r="1.5"/>
<circle cx="384.5" cy="91.8" r="1.5"/>
<circle cx="389.5" cy="81.2" r="1.5"/>
<circle cx="390.9" cy="83.0" r="1.5"/>
<circle cx="390.5" cy="87.2" r="1.5"/>
<circle cx="389.5" cy="92.3" r="1.5"/>
<circle cx="391.9" cy="93.7" r="1.5"/>
</g>
<g fill="#2e3850" filter="url(#bl)">
<circle cx="336.3" cy="37.6" r="0.75"/>
<circle cx="352.1" cy="44.3" r="0.75"/>
<circle cx="354.4" cy="42.4" r="0.75"/>
<circle cx="355.0" cy="48.2" r="0.75"/>
<circle cx="376.1" cy="44.3" r="0.75"/>
<circle cx="379.0" cy="46.3" r="0.75"/>
<circle cx="397.3" cy="44.3" r="0.75"/>
<circle cx="402.1" cy="58.8" r="0.75"/>
<circle cx="403.0" cy="71.3" r="0.75"/>
<circle cx="458.8" cy="39.9" r="0.75"/>
<circle cx="422.8" cy="48.6" r="0.75"/>
<circle cx="411.3" cy="52.6" r="0.75"/>
<circle cx="415.2" cy="52.6" r="0.75"/>
<circle cx="418.4" cy="54.9" r="0.75"/>
<circle cx="430.5" cy="52.6" r="0.75"/>
<circle cx="442.5" cy="50.7" r="0.75"/>
<circle cx="461.3" cy="59.2" r="0.75"/>
<circle cx="408.2" cy="61.7" r="0.75"/>
<circle cx="434.8" cy="61.7" r="0.75"/>
<circle cx="451.7" cy="63.6" r="0.75"/>
<circle cx="405.0" cy="65.5" r="0.75"/>
<circle cx="422.8" cy="65.5" r="0.75"/>
<circle cx="433.2" cy="65.5" r="0.75"/>
<circle cx="482.8" cy="65.5" r="0.75"/>
<circle cx="413.6" cy="69.9" r="0.75"/>
<circle cx="416.5" cy="69.9" r="0.75"/>
<circle cx="418.4" cy="69.9" r="0.75"/>
<circle cx="456.9" cy="69.9" r="0.75"/>
<circle cx="405.5" cy="72.2" r="0.75"/>
<circle cx="411.3" cy="74.2" r="0.75"/>
<circle cx="416.5" cy="74.2" r="0.75"/>
<circle cx="435.2" cy="74.2" r="0.75"/>
<circle cx="440.2" cy="72.2" r="0.75"/>
<circle cx="465.9" cy="72.2" r="0.75"/>
<circle cx="468.4" cy="72.2" r="0.75"/>
<circle cx="406.3" cy="78.4" r="0.75"/>
<circle cx="422.8" cy="76.5" r="0.75"/>
<circle cx="425.5" cy="76.5" r="0.75"/>
<circle cx="468.4" cy="76.5" r="0.75"/>
<circle cx="418.4" cy="80.9" r="0.75"/>
<circle cx="418.4" cy="83.4" r="0.75"/>
<circle cx="412.1" cy="89.5" r="0.75"/>
<circle cx="424.8" cy="89.5" r="0.75"/>
<circle cx="317.8" cy="110.8" r="0.75"/>
<circle cx="323.2" cy="110.8" r="0.75"/>
<circle cx="345.3" cy="110.8" r="0.75"/>
<circle cx="319.4" cy="115.2" r="0.75"/>
<circle cx="322.3" cy="117.7" r="0.75"/>
<circle cx="328.6" cy="115.2" r="0.75"/>
<circle cx="334.8" cy="115.2" r="0.75"/>
<circle cx="330.9" cy="119.6" r="0.75"/>
<circle cx="321.7" cy="123.8" r="0.75"/>
<circle cx="321.7" cy="130.2" r="0.75"/>
<circle cx="324.8" cy="145.4" r="0.75"/>
<circle cx="316.5" cy="149.8" r="0.75"/>
<circle cx="317.5" cy="171.0" r="0.75"/>
<circle cx="332.8" cy="52.8" r="0.75"/>
<circle cx="330.5" cy="54.6" r="0.75"/>
<circle cx="340.2" cy="54.6" r="0.75"/>
<circle cx="320.3" cy="57.4" r="0.75"/>
<circle cx="327.2" cy="59.2" r="0.75"/>
<circle cx="331.4" cy="58.8" r="0.75"/>
<circle cx="333.7" cy="58.3" r="0.75"/>
<circle cx="332.8" cy="60.6" r="0.75"/>
<circle cx="338.3" cy="59.2" r="0.75"/>
<circle cx="344.8" cy="57.4" r="0.75"/>
<circle cx="346.6" cy="57.4" r="0.75"/>
<circle cx="351.7" cy="56.9" r="0.75"/>
<circle cx="322.2" cy="63.9" r="0.75"/>
<circle cx="325.9" cy="64.8" r="0.75"/>
<circle cx="328.2" cy="63.9" r="0.75"/>
<circle cx="333.7" cy="64.8" r="0.75"/>
<circle cx="334.6" cy="67.5" r="0.75"/>
<circle cx="341.5" cy="67.5" r="0.75"/>
<circle cx="342.9" cy="65.7" r="0.75"/>
<circle cx="348.9" cy="63.9" r="0.75"/>
<circle cx="349.4" cy="61.1" r="0.75"/>
<circle cx="351.7" cy="61.1" r="0.75"/>
<circle cx="347.6" cy="69.9" r="0.75"/>
<circle cx="349.9" cy="69.9" r="0.75"/>
<circle cx="351.7" cy="69.9" r="0.75"/>
<circle cx="348.9" cy="67.1" r="0.75"/>
<circle cx="316.2" cy="72.2" r="0.75"/>
<circle cx="319.9" cy="74.5" r="0.75"/>
<circle cx="324.5" cy="72.2" r="0.75"/>
<circle cx="325.9" cy="74.5" r="0.75"/>
<circle cx="327.7" cy="70.8" r="0.75"/>
<circle cx="328.2" cy="73.1" r="0.75"/>
<circle cx="330.9" cy="72.6" r="0.75"/>
<circle cx="332.3" cy="74.9" r="0.75"/>
<circle cx="335.5" cy="74.5" r="0.75"/>
<circle cx="335.5" cy="70.3" r="0.75"/>
<circle cx="338.8" cy="74.0" r="0.75"/>
<circle cx="340.6" cy="71.7" r="0.75"/>
<circle cx="342.5" cy="73.1" r="0.75"/>
<circle cx="344.8" cy="74.5" r="0.75"/>
<circle cx="347.6" cy="74.5" r="0.75"/>
<circle cx="351.2" cy="76.8" r="0.75"/>
<circle cx="315.2" cy="76.8" r="0.75"/>
<circle cx="322.2" cy="77.7" r="0.75"/>
<circle cx="325.4" cy="76.8" r="0.75"/>
<circle cx="328.2" cy="76.8" r="0.75"/>
<circle cx="330.9" cy="76.8" r="0.75"/>
<circle cx="333.7" cy="76.8" r="0.75"/>
<circle cx="341.1" cy="77.7" r="0.75"/>
<circle cx="343.9" cy="77.7" r="0.75"/>
<circle cx="321.2" cy="83.2" r="0.75"/>
<circle cx="323.5" cy="83.7" r="0.75"/>
<circle cx="325.9" cy="81.4" r="0.75"/>
<circle cx="328.2" cy="83.2" r="0.75"/>
<circle cx="330.5" cy="80.9" r="0.75"/>
<circle cx="332.8" cy="83.2" r="0.75"/>
<circle cx="342.5" cy="80.9" r="0.75"/>
<circle cx="343.9" cy="83.7" r="0.75"/>
<circle cx="345.7" cy="82.3" r="0.75"/>
<circle cx="351.7" cy="83.2" r="0.75"/>
<circle cx="318.5" cy="86.9" r="0.75"/>
<circle cx="323.1" cy="89.2" r="0.75"/>
<circle cx="327.7" cy="86.9" r="0.75"/>
<circle cx="332.8" cy="89.2" r="0.75"/>
<circle cx="335.1" cy="89.2" r="0.75"/>
<circle cx="337.4" cy="87.4" r="0.75"/>
<circle cx="337.9" cy="89.7" r="0.75"/>
<circle cx="318.0" cy="92.0" r="0.75"/>
<circle cx="319.9" cy="91.5" r="0.75"/>
<circle cx="324.5" cy="92.5" r="0.75"/>
<circle cx="327.2" cy="91.1" r="0.75"/>
<circle cx="329.1" cy="92.0" r="0.75"/>
<circle cx="332.8" cy="92.0" r="0.75"/>
<circle cx="335.5" cy="92.0" r="0.75"/>
<circle cx="337.9" cy="93.9" r="0.75"/>
<circle cx="348.0" cy="91.5" r="0.75"/>
<circle cx="350.3" cy="92.0" r="0.75"/>
<circle cx="315.2" cy="96.2" r="0.75"/>
<circle cx="320.8" cy="96.2" r="0.75"/>
<circle cx="327.2" cy="95.7" r="0.75"/>
<circle cx="331.4" cy="96.2" r="0.75"/>
<circle cx="333.7" cy="96.2" r="0.75"/>
<circle cx="328.2" cy="98.0" r="0.75"/>
<circle cx="345.2" cy="98.0" r="0.75"/>
<circle cx="348.0" cy="96.6" r="0.75"/>
<circle cx="320.8" cy="99.9" r="0.75"/>
<circle cx="327.2" cy="99.9" r="0.75"/>
<circle cx="338.3" cy="99.9" r="0.75"/>
<circle cx="342.9" cy="99.4" r="0.75"/>
<circle cx="318.0" cy="102.2" r="0.75"/>
<circle cx="323.1" cy="102.2" r="0.75"/>
<circle cx="330.9" cy="104.5" r="0.75"/>
<circle cx="332.8" cy="106.8" r="0.75"/>
<circle cx="321.2" cy="106.8" r="0.75"/>
<circle cx="348.5" cy="104.5" r="0.75"/>
<circle cx="370.6" cy="52.8" r="0.75"/>
<circle cx="372.9" cy="50.9" r="0.75"/>
<circle cx="381.2" cy="50.9" r="0.75"/>
<circle cx="382.6" cy="52.8" r="0.75"/>
<circle cx="399.2" cy="50.9" r="0.75"/>
<circle cx="396.9" cy="55.1" r="0.75"/>
<circle cx="361.4" cy="59.2" r="0.75"/>
<circle cx="368.3" cy="59.2" r="0.75"/>
<circle cx="372.5" cy="57.4" r="0.75"/>
<circle cx="375.2" cy="57.4" r="0.75"/>
<circle cx="378.0" cy="59.2" r="0.75"/>
<circle cx="382.6" cy="57.4" r="0.75"/>
<circle cx="385.9" cy="56.5" r="0.75"/>
<circle cx="388.6" cy="55.1" r="0.75"/>
<circle cx="384.9" cy="59.2" r="0.75"/>
<circle cx="391.4" cy="59.2" r="0.75"/>
<circle cx="393.7" cy="59.2" r="0.75"/>
<circle cx="396.0" cy="59.2" r="0.75"/>
<circle cx="399.2" cy="61.5" r="0.75"/>
<circle cx="358.6" cy="61.5" r="0.75"/>
<circle cx="363.7" cy="61.5" r="0.75"/>
<circle cx="366.0" cy="61.5" r="0.75"/>
<circle cx="373.4" cy="61.5" r="0.75"/>
<circle cx="370.6" cy="63.9" r="0.75"/>
<circle cx="380.8" cy="61.5" r="0.75"/>
<circle cx="387.2" cy="61.5" r="0.75"/>
<circle cx="396.9" cy="63.9" r="0.75"/>
<circle cx="356.3" cy="65.2" r="0.75"/>
<circle cx="358.6" cy="65.7" r="0.75"/>
<circle cx="361.4" cy="63.9" r="0.75"/>
<circle cx="364.2" cy="67.5" r="0.75"/>
<circle cx="372.5" cy="65.7" r="0.75"/>
<circle cx="375.7" cy="65.7" r="0.75"/>
<circle cx="378.0" cy="66.2" r="0.75"/>
<circle cx="380.3" cy="64.3" r="0.75"/>
<circle cx="383.5" cy="68.0" r="0.75"/>
<circle cx="388.2" cy="66.2" r="0.75"/>
<circle cx="390.0" cy="63.9" r="0.75"/>
<circle cx="394.6" cy="66.2" r="0.75"/>
<circle cx="355.8" cy="70.3" r="0.75"/>
<circle cx="360.5" cy="72.2" r="0.75"/>
<circle cx="369.2" cy="72.2" r="0.75"/>
<circle cx="372.5" cy="68.9" r="0.75"/>
<circle cx="373.9" cy="70.3" r="0.75"/>
<circle cx="376.2" cy="71.7" r="0.75"/>
<circle cx="378.0" cy="69.9" r="0.75"/>
<circle cx="380.8" cy="70.3" r="0.75"/>
<circle cx="386.8" cy="68.0" r="0.75"/>
<circle cx="390.9" cy="72.2" r="0.75"/>
<circle cx="393.7" cy="69.9" r="0.75"/>
<circle cx="396.5" cy="72.2" r="0.75"/>
<circle cx="399.7" cy="71.7" r="0.75"/>
<circle cx="357.7" cy="76.8" r="0.75"/>
<circle cx="361.4" cy="76.8" r="0.75"/>
<circle cx="365.5" cy="76.8" r="0.75"/>
<circle cx="368.8" cy="76.8" r="0.75"/>
<circle cx="371.5" cy="74.5" r="0.75"/>
<circle cx="375.7" cy="74.5" r="0.75"/>
<circle cx="378.5" cy="76.8" r="0.75"/>
<circle cx="385.9" cy="76.8" r="0.75"/>
<circle cx="391.4" cy="74.5" r="0.75"/>
<circle cx="397.4" cy="74.5" r="0.75"/>
<circle cx="398.3" cy="78.2" r="0.75"/>
<circle cx="355.8" cy="83.0" r="0.75"/>
<circle cx="359.5" cy="83.0" r="0.75"/>
<circle cx="367.9" cy="83.0" r="0.75"/>
<circle cx="372.9" cy="83.0" r="0.75"/>
<circle cx="375.7" cy="84.9" r="0.75"/>
<circle cx="361.4" cy="87.2" r="0.75"/>
<circle cx="372.0" cy="87.2" r="0.75"/>
<circle cx="373.4" cy="89.5" r="0.75"/>
<circle cx="380.3" cy="89.5" r="0.75"/>
<circle cx="384.5" cy="91.8" r="0.75"/>
<circle cx="389.5" cy="81.2" r="0.75"/>
<circle cx="390.9" cy="83.0" r="0.75"/>
<circle cx="390.5" cy="87.2" r="0.75"/>
<circle cx="389.5" cy="92.3" r="0.75"/>
<circle cx="391.9" cy="93.7" r="0.75"/>
</g>
<text transform="translate(271.6,23.3) scale(0.9,1)" font-family="Liberation Sans, sans-serif" font-size="15.4" fill="#111" stroke="#111" stroke-width="0.45">B</text>
<text transform="translate(413.5,201.5) scale(0.91,1)" font-family="Liberation Sans, sans-serif" font-size="10.8" fill="#1e1e1e" stroke="#1e1e1e" stroke-width="0.32" text-anchor="middle">Heart T2* (ms)</text>
<text transform="translate(290.3,105.5) rotate(-90) scale(0.91,1)" font-family="Liberation Sans, sans-serif" font-size="10.8" fill="#1e1e1e" stroke="#1e1e1e" stroke-width="0.32" text-anchor="middle">LV ejection fraction (%)</text>
<line x1="44.0" y1="241" x2="44.0" y2="385.8" stroke="#e0e0e0" stroke-width="1"/>
<line x1="44.0" y1="385.8" x2="244.6" y2="385.8" stroke="#e0e0e0" stroke-width="1"/>
<text transform="translate(44.0,394.2) scale(0.85,1)" font-family="Liberation Sans, sans-serif" font-size="5.0" fill="#777" stroke="#777" stroke-width="0.15" text-anchor="middle">0</text>
<text transform="translate(92.7,394.2) scale(0.85,1)" font-family="Liberation Sans, sans-serif" font-size="5.0" fill="#777" stroke="#777" stroke-width="0.15" text-anchor="middle">20</text>
<text transform="translate(141.3,394.2) scale(0.85,1)" font-family="Liberation Sans, sans-serif" font-size="5.0" fill="#777" stroke="#777" stroke-width="0.15" text-anchor="middle">40</text>
<text transform="translate(189.9,394.2) scale(0.85,1)" font-family="Liberation Sans, sans-serif" font-size="5.0" fill="#777" stroke="#777" stroke-width="0.15" text-anchor="middle">60</text>
<text transform="translate(238.6,394.2) scale(0.85,1)" font-family="Liberation Sans, sans-serif" font-size="5.0" fill="#777" stroke="#777" stroke-width="0.15" text-anchor="middle">80</text>
<text transform="translate(37.5,388.8) scale(0.85,1)" font-family="Liberation Sans, sans-serif" font-size="5.0" fill="#777" stroke="#777" stroke-width="0.15" text-anchor="middle">20</text>
<text transform="translate(37.5,344.2) scale(0.85,1)" font-family="Liberation Sans, sans-serif" font-size="5.0" fill="#777" stroke="#777" stroke-width="0.15" text-anchor="middle">40</text>
<text transform="translate(37.5,299.6) scale(0.85,1)" font-family="Liberation Sans, sans-serif" font-size="5.0" fill="#777" stroke="#777" stroke-width="0.15" text-anchor="middle">60</text>
<text transform="translate(37.5,255.0) scale(0.85,1)" font-family="Liberation Sans, sans-serif" font-size="5.0" fill="#777" stroke="#777" stroke-width="0.15" text-anchor="middle">80</text>
<line x1="92.7" y1="385.8" x2="92.7" y2="241.5" stroke="#666" stroke-width="1.0" stroke-dasharray="3.0,2.43"/>
<line x1="44.0" y1="340.5" x2="242.5" y2="340.5" stroke="#666" stroke-width="1.0" stroke-dasharray="3.0,2.43"/>
<g fill="#6d9ad8" fill-opacity="0.5">
<circle cx="53.5" cy="248.0" r="1.5"/>
<circle cx="58.9" cy="270.7" r="1.5"/>
<circle cx="58.9" cy="277.4" r="1.5"/>
<circle cx="62.2" cy="276.1" r="1.5"/>
<circle cx="59.7" cy="297.2" r="1.5"/>
<circle cx="64.7" cy="303.8" r="1.5"/>
<circle cx="81.4" cy="299.9" r="1.5"/>
<circle cx="75.7" cy="307.6" r="1.5"/>
<circle cx="77.2" cy="306.8" r="1.5"/>
<circle cx="72.8" cy="310.7" r="1.5"/>
<circle cx="110.8" cy="316.7" r="1.5"/>
<circle cx="57.4" cy="327.2" r="1.5"/>
<circle cx="60.8" cy="324.9" r="1.5"/>
<circle cx="68.9" cy="326.3" r="1.5"/>
<circle cx="72.4" cy="326.3" r="1.5"/>
<circle cx="108.3" cy="330.7" r="1.5"/>
<circle cx="110.3" cy="333.0" r="1.5"/>
<circle cx="111.6" cy="334.9" r="1.5"/>
<circle cx="128.9" cy="333.4" r="1.5"/>
<circle cx="132.4" cy="336.5" r="1.5"/>
<circle cx="141.0" cy="343.6" r="1.5"/>
<circle cx="157.8" cy="324.9" r="1.5"/>
<circle cx="164.7" cy="328.2" r="1.5"/>
<circle cx="180.1" cy="329.5" r="1.5"/>
<circle cx="157.8" cy="336.8" r="1.5"/>
<circle cx="224.3" cy="341.1" r="1.5"/>
<circle cx="209.3" cy="344.5" r="1.5"/>
<circle cx="146.8" cy="346.5" r="1.5"/>
<circle cx="151.6" cy="345.5" r="1.5"/>
<circle cx="163.2" cy="347.4" r="1.5"/>
<circle cx="175.7" cy="346.5" r="1.5"/>
<circle cx="147.4" cy="347.9" r="1.5"/>
<circle cx="162.8" cy="348.8" r="1.5"/>
<circle cx="163.2" cy="351.2" r="1.5"/>
<circle cx="165.5" cy="349.8" r="1.5"/>
<circle cx="144.9" cy="356.2" r="1.5"/>
<circle cx="153.5" cy="357.5" r="1.5"/>
<circle cx="155.1" cy="356.2" r="1.5"/>
<circle cx="182.4" cy="359.4" r="1.5"/>
<circle cx="192.4" cy="360.4" r="1.5"/>
<circle cx="202.0" cy="358.5" r="1.5"/>
<circle cx="146.8" cy="373.5" r="1.5"/>
<circle cx="151.2" cy="374.2" r="1.5"/>
<circle cx="151.2" cy="378.7" r="1.5"/>
<circle cx="155.8" cy="375.4" r="1.5"/>
<circle cx="155.8" cy="377.3" r="1.5"/>
<circle cx="175.1" cy="371.0" r="1.5"/>
<circle cx="197.4" cy="375.8" r="1.5"/>
<circle cx="200.1" cy="374.2" r="1.5"/>
<circle cx="209.3" cy="370.4" r="1.5"/>
<circle cx="173.2" cy="384.4" r="1.5"/>
<circle cx="66.6" cy="330.9" r="1.5"/>
<circle cx="58.3" cy="334.6" r="1.5"/>
<circle cx="57.9" cy="336.9" r="1.5"/>
<circle cx="68.9" cy="334.6" r="1.5"/>
<circle cx="73.1" cy="333.7" r="1.5"/>
<circle cx="69.9" cy="336.0" r="1.5"/>
<circle cx="51.4" cy="340.2" r="1.5"/>
<circle cx="56.9" cy="340.2" r="1.5"/>
<circle cx="61.5" cy="338.8" r="1.5"/>
<circle cx="63.4" cy="340.2" r="1.5"/>
<circle cx="68.5" cy="339.7" r="1.5"/>
<circle cx="80.0" cy="338.3" r="1.5"/>
<circle cx="79.5" cy="341.1" r="1.5"/>
<circle cx="86.9" cy="337.4" r="1.5"/>
<circle cx="89.2" cy="340.2" r="1.5"/>
<circle cx="50.9" cy="342.9" r="1.5"/>
<circle cx="55.5" cy="342.9" r="1.5"/>
<circle cx="60.2" cy="343.9" r="1.5"/>
<circle cx="65.2" cy="344.8" r="1.5"/>
<circle cx="69.9" cy="342.9" r="1.5"/>
<circle cx="87.4" cy="345.2" r="1.5"/>
<circle cx="89.7" cy="343.9" r="1.5"/>
<circle cx="52.8" cy="347.1" r="1.5"/>
<circle cx="55.1" cy="347.5" r="1.5"/>
<circle cx="70.8" cy="348.0" r="1.5"/>
<circle cx="56.9" cy="350.3" r="1.5"/>
<circle cx="59.2" cy="349.9" r="1.5"/>
<circle cx="66.2" cy="350.3" r="1.5"/>
<circle cx="72.6" cy="351.7" r="1.5"/>
<circle cx="58.3" cy="352.2" r="1.5"/>
<circle cx="60.6" cy="353.1" r="1.5"/>
<circle cx="62.5" cy="352.6" r="1.5"/>
<circle cx="63.9" cy="351.7" r="1.5"/>
<circle cx="68.0" cy="351.7" r="1.5"/>
<circle cx="61.1" cy="354.9" r="1.5"/>
<circle cx="65.2" cy="354.5" r="1.5"/>
<circle cx="67.1" cy="355.4" r="1.5"/>
<circle cx="69.9" cy="354.5" r="1.5"/>
<circle cx="73.5" cy="355.4" r="1.5"/>
<circle cx="81.4" cy="354.5" r="1.5"/>
<circle cx="84.6" cy="354.9" r="1.5"/>
<circle cx="86.5" cy="354.9" r="1.5"/>
<circle cx="54.2" cy="359.1" r="1.5"/>
<circle cx="59.2" cy="358.6" r="1.5"/>
<circle cx="63.9" cy="356.8" r="1.5"/>
<circle cx="71.7" cy="357.7" r="1.5"/>
<circle cx="75.4" cy="355.9" r="1.5"/>
<circle cx="78.2" cy="357.7" r="1.5"/>
<circle cx="83.7" cy="357.2" r="1.5"/>
<circle cx="86.9" cy="357.7" r="1.5"/>
<circle cx="53.2" cy="359.8" r="1.5"/>
<circle cx="56.0" cy="361.7" r="1.5"/>
<circle cx="59.2" cy="359.8" r="1.5"/>
<circle cx="71.2" cy="359.4" r="1.5"/>
<circle cx="73.1" cy="359.8" r="1.5"/>
<circle cx="78.6" cy="358.9" r="1.5"/>
<circle cx="86.9" cy="361.7" r="1.5"/>
<circle cx="55.5" cy="365.8" r="1.5"/>
<circle cx="56.5" cy="368.1" r="1.5"/>
<circle cx="59.7" cy="365.4" r="1.5"/>
<circle cx="62.0" cy="366.3" r="1.5"/>
<circle cx="65.7" cy="364.0" r="1.5"/>
<circle cx="65.2" cy="367.7" r="1.5"/>
<circle cx="68.0" cy="368.1" r="1.5"/>
<circle cx="70.8" cy="362.6" r="1.5"/>
<circle cx="73.5" cy="362.6" r="1.5"/>
<circle cx="73.1" cy="366.7" r="1.5"/>
<circle cx="78.2" cy="366.3" r="1.5"/>
<circle cx="76.3" cy="370.0" r="1.5"/>
<circle cx="83.2" cy="363.0" r="1.5"/>
<circle cx="88.3" cy="364.4" r="1.5"/>
<circle cx="90.2" cy="364.9" r="1.5"/>
<circle cx="83.7" cy="368.6" r="1.5"/>
<circle cx="52.8" cy="369.5" r="1.5"/>
<circle cx="64.8" cy="370.4" r="1.5"/>
<circle cx="66.6" cy="371.4" r="1.5"/>
<circle cx="67.5" cy="373.2" r="1.5"/>
<circle cx="64.3" cy="374.6" r="1.5"/>
<circle cx="66.2" cy="376.4" r="1.5"/>
<circle cx="73.5" cy="374.1" r="1.5"/>
<circle cx="81.4" cy="373.2" r="1.5"/>
<circle cx="84.6" cy="371.4" r="1.5"/>
<circle cx="89.7" cy="372.7" r="1.5"/>
<circle cx="63.4" cy="378.3" r="1.5"/>
<circle cx="68.5" cy="377.8" r="1.5"/>
<circle cx="70.8" cy="376.0" r="1.5"/>
<circle cx="68.0" cy="380.6" r="1.5"/>
<circle cx="70.3" cy="380.6" r="1.5"/>
<circle cx="72.6" cy="380.1" r="1.5"/>
<circle cx="74.5" cy="380.1" r="1.5"/>
<circle cx="77.7" cy="378.7" r="1.5"/>
<circle cx="80.9" cy="379.7" r="1.5"/>
<circle cx="82.8" cy="376.0" r="1.5"/>
<circle cx="87.4" cy="376.4" r="1.5"/>
<circle cx="89.2" cy="377.4" r="1.5"/>
<circle cx="81.4" cy="383.4" r="1.5"/>
<circle cx="60.2" cy="382.4" r="1.5"/>
<circle cx="57.9" cy="385.2" r="1.5"/>
<circle cx="65.2" cy="385.2" r="1.5"/>
<circle cx="114.2" cy="343.7" r="1.5"/>
<circle cx="116.9" cy="346.0" r="1.5"/>
<circle cx="111.4" cy="348.3" r="1.5"/>
<circle cx="106.8" cy="349.7" r="1.5"/>
<circle cx="123.9" cy="350.6" r="1.5"/>
<circle cx="128.9" cy="343.7" r="1.5"/>
<circle cx="131.2" cy="344.2" r="1.5"/>
<circle cx="97.1" cy="351.1" r="1.5"/>
<circle cx="99.8" cy="354.3" r="1.5"/>
<circle cx="96.2" cy="356.6" r="1.5"/>
<circle cx="98.9" cy="357.1" r="1.5"/>
<circle cx="128.9" cy="353.9" r="1.5"/>
<circle cx="130.8" cy="357.1" r="1.5"/>
<circle cx="118.8" cy="357.1" r="1.5"/>
<circle cx="114.2" cy="358.5" r="1.5"/>
<circle cx="116.5" cy="359.9" r="1.5"/>
<circle cx="119.7" cy="360.3" r="1.5"/>
<circle cx="106.8" cy="359.9" r="1.5"/>
<circle cx="105.9" cy="361.7" r="1.5"/>
<circle cx="97.1" cy="363.1" r="1.5"/>
<circle cx="108.2" cy="364.0" r="1.5"/>
<circle cx="112.3" cy="364.0" r="1.5"/>
<circle cx="116.5" cy="364.0" r="1.5"/>
<circle cx="121.5" cy="363.1" r="1.5"/>
<circle cx="120.6" cy="366.3" r="1.5"/>
<circle cx="124.3" cy="367.7" r="1.5"/>
<circle cx="127.1" cy="365.4" r="1.5"/>
<circle cx="129.9" cy="364.0" r="1.5"/>
<circle cx="131.7" cy="361.7" r="1.5"/>
<circle cx="134.0" cy="360.8" r="1.5"/>
<circle cx="136.3" cy="358.9" r="1.5"/>
<circle cx="137.2" cy="364.9" r="1.5"/>
<circle cx="136.3" cy="367.7" r="1.5"/>
<circle cx="98.0" cy="366.8" r="1.5"/>
<circle cx="99.8" cy="366.8" r="1.5"/>
<circle cx="94.3" cy="368.6" r="1.5"/>
<circle cx="112.3" cy="369.1" r="1.5"/>
<circle cx="94.8" cy="372.1" r="1.5"/>
<circle cx="94.3" cy="374.4" r="1.5"/>
<circle cx="96.2" cy="377.7" r="1.5"/>
<circle cx="98.5" cy="377.2" r="1.5"/>
<circle cx="99.8" cy="380.0" r="1.5"/>
<circle cx="104.5" cy="376.7" r="1.5"/>
<circle cx="104.5" cy="378.6" r="1.5"/>
<circle cx="108.2" cy="379.0" r="1.5"/>
<circle cx="110.5" cy="380.9" r="1.5"/>
<circle cx="111.9" cy="380.9" r="1.5"/>
<circle cx="111.4" cy="375.4" r="1.5"/>
<circle cx="114.2" cy="373.0" r="1.5"/>
<circle cx="114.2" cy="376.3" r="1.5"/>
<circle cx="116.5" cy="376.7" r="1.5"/>
<circle cx="118.8" cy="378.6" r="1.5"/>
<circle cx="121.5" cy="376.7" r="1.5"/>
<circle cx="119.2" cy="381.4" r="1.5"/>
<circle cx="122.9" cy="380.4" r="1.5"/>
<circle cx="125.7" cy="378.1" r="1.5"/>
<circle cx="126.2" cy="373.0" r="1.5"/>
<circle cx="129.9" cy="380.9" r="1.5"/>
<circle cx="133.6" cy="382.7" r="1.5"/>
<circle cx="138.2" cy="379.5" r="1.5"/>
<circle cx="113.7" cy="384.1" r="1.5"/>
<circle cx="116.5" cy="383.2" r="1.5"/>
<circle cx="116.5" cy="385.5" r="1.5"/>
<circle cx="134.0" cy="373.5" r="1.5"/>
<circle cx="136.3" cy="374.4" r="1.5"/>
<circle cx="138.2" cy="374.4" r="1.5"/>
</g>
<g fill="#2e3850" filter="url(#bl)">
<circle cx="53.5" cy="248.0" r="0.75"/>
<circle cx="58.9" cy="270.7" r="0.75"/>
<circle cx="58.9" cy="277.4" r="0.75"/>
<circle cx="62.2" cy="276.1" r="0.75"/>
<circle cx="59.7" cy="297.2" r="0.75"/>
<circle cx="64.7" cy="303.8" r="0.75"/>
<circle cx="81.4" cy="299.9" r="0.75"/>
<circle cx="75.7" cy="307.6" r="0.75"/>
<circle cx="77.2" cy="306.8" r="0.75"/>
<circle cx="72.8" cy="310.7" r="0.75"/>
<circle cx="110.8" cy="316.7" r="0.75"/>
<circle cx="57.4" cy="327.2" r="0.75"/>
<circle cx="60.8" cy="324.9" r="0.75"/>
<circle cx="68.9" cy="326.3" r="0.75"/>
<circle cx="72.4" cy="326.3" r="0.75"/>
<circle cx="108.3" cy="330.7" r="0.75"/>
<circle cx="110.3" cy="333.0" r="0.75"/>
<circle cx="111.6" cy="334.9" r="0.75"/>
<circle cx="128.9" cy="333.4" r="0.75"/>
<circle cx="132.4" cy="336.5" r="0.75"/>
<circle cx="141.0" cy="343.6" r="0.75"/>
<circle cx="157.8" cy="324.9" r="0.75"/>
<circle cx="164.7" cy="328.2" r="0.75"/>
<circle cx="180.1" cy="329.5" r="0.75"/>
<circle cx="157.8" cy="336.8" r="0.75"/>
<circle cx="224.3" cy="341.1" r="0.75"/>
<circle cx="209.3" cy="344.5" r="0.75"/>
<circle cx="146.8" cy="346.5" r="0.75"/>
<circle cx="151.6" cy="345.5" r="0.75"/>
<circle cx="163.2" cy="347.4" r="0.75"/>
<circle cx="175.7" cy="346.5" r="0.75"/>
<circle cx="147.4" cy="347.9" r="0.75"/>
<circle cx="162.8" cy="348.8" r="0.75"/>
<circle cx="163.2" cy="351.2" r="0.75"/>
<circle cx="165.5" cy="349.8" r="0.75"/>
<circle cx="144.9" cy="356.2" r="0.75"/>
<circle cx="153.5" cy="357.5" r="0.75"/>
<circle cx="155.1" cy="356.2" r="0.75"/>
<circle cx="182.4" cy="359.4" r="0.75"/>
<circle cx="192.4" cy="360.4" r="0.75"/>
<circle cx="202.0" cy="358.5" r="0.75"/>
<circle cx="146.8" cy="373.5" r="0.75"/>
<circle cx="151.2" cy="374.2" r="0.75"/>
<circle cx="151.2" cy="378.7" r="0.75"/>
<circle cx="155.8" cy="375.4" r="0.75"/>
<circle cx="155.8" cy="377.3" r="0.75"/>
<circle cx="175.1" cy="371.0" r="0.75"/>
<circle cx="197.4" cy="375.8" r="0.75"/>
<circle cx="200.1" cy="374.2" r="0.75"/>
<circle cx="209.3" cy="370.4" r="0.75"/>
<circle cx="173.2" cy="384.4" r="0.75"/>
<circle cx="66.6" cy="330.9" r="0.75"/>
<circle cx="58.3" cy="334.6" r="0.75"/>
<circle cx="57.9" cy="336.9" r="0.75"/>
<circle cx="68.9" cy="334.6" r="0.75"/>
<circle cx="73.1" cy="333.7" r="0.75"/>
<circle cx="69.9" cy="336.0" r="0.75"/>
<circle cx="51.4" cy="340.2" r="0.75"/>
<circle cx="56.9" cy="340.2" r="0.75"/>
<circle cx="61.5" cy="338.8" r="0.75"/>
<circle cx="63.4" cy="340.2" r="0.75"/>
<circle cx="68.5" cy="339.7" r="0.75"/>
<circle cx="80.0" cy="338.3" r="0.75"/>
<circle cx="79.5" cy="341.1" r="0.75"/>
<circle cx="86.9" cy="337.4" r="0.75"/>
<circle cx="89.2" cy="340.2" r="0.75"/>
<circle cx="50.9" cy="342.9" r="0.75"/>
<circle cx="55.5" cy="342.9" r="0.75"/>
<circle cx="60.2" cy="343.9" r="0.75"/>
<circle cx="65.2" cy="344.8" r="0.75"/>
<circle cx="69.9" cy="342.9" r="0.75"/>
<circle cx="87.4" cy="345.2" r="0.75"/>
<circle cx="89.7" cy="343.9" r="0.75"/>
<circle cx="52.8" cy="347.1" r="0.75"/>
<circle cx="55.1" cy="347.5" r="0.75"/>
<circle cx="70.8" cy="348.0" r="0.75"/>
<circle cx="56.9" cy="350.3" r="0.75"/>
<circle cx="59.2" cy="349.9" r="0.75"/>
<circle cx="66.2" cy="350.3" r="0.75"/>
<circle cx="72.6" cy="351.7" r="0.75"/>
<circle cx="58.3" cy="352.2" r="0.75"/>
<circle cx="60.6" cy="353.1" r="0.75"/>
<circle cx="62.5" cy="352.6" r="0.75"/>
<circle cx="63.9" cy="351.7" r="0.75"/>
<circle cx="68.0" cy="351.7" r="0.75"/>
<circle cx="61.1" cy="354.9" r="0.75"/>
<circle cx="65.2" cy="354.5" r="0.75"/>
<circle cx="67.1" cy="355.4" r="0.75"/>
<circle cx="69.9" cy="354.5" r="0.75"/>
<circle cx="73.5" cy="355.4" r="0.75"/>
<circle cx="81.4" cy="354.5" r="0.75"/>
<circle cx="84.6" cy="354.9" r="0.75"/>
<circle cx="86.5" cy="354.9" r="0.75"/>
<circle cx="54.2" cy="359.1" r="0.75"/>
<circle cx="59.2" cy="358.6" r="0.75"/>
<circle cx="63.9" cy="356.8" r="0.75"/>
<circle cx="71.7" cy="357.7" r="0.75"/>
<circle cx="75.4" cy="355.9" r="0.75"/>
<circle cx="78.2" cy="357.7" r="0.75"/>
<circle cx="83.7" cy="357.2" r="0.75"/>
<circle cx="86.9" cy="357.7" r="0.75"/>
<circle cx="53.2" cy="359.8" r="0.75"/>
<circle cx="56.0" cy="361.7" r="0.75"/>
<circle cx="59.2" cy="359.8" r="0.75"/>
<circle cx="71.2" cy="359.4" r="0.75"/>
<circle cx="73.1" cy="359.8" r="0.75"/>
<circle cx="78.6" cy="358.9" r="0.75"/>
<circle cx="86.9" cy="361.7" r="0.75"/>
<circle cx="55.5" cy="365.8" r="0.75"/>
<circle cx="56.5" cy="368.1" r="0.75"/>
<circle cx="59.7" cy="365.4" r="0.75"/>
<circle cx="62.0" cy="366.3" r="0.75"/>
<circle cx="65.7" cy="364.0" r="0.75"/>
<circle cx="65.2" cy="367.7" r="0.75"/>
<circle cx="68.0" cy="368.1" r="0.75"/>
<circle cx="70.8" cy="362.6" r="0.75"/>
<circle cx="73.5" cy="362.6" r="0.75"/>
<circle cx="73.1" cy="366.7" r="0.75"/>
<circle cx="78.2" cy="366.3" r="0.75"/>
<circle cx="76.3" cy="370.0" r="0.75"/>
<circle cx="83.2" cy="363.0" r="0.75"/>
<circle cx="88.3" cy="364.4" r="0.75"/>
<circle cx="90.2" cy="364.9" r="0.75"/>
<circle cx="83.7" cy="368.6" r="0.75"/>
<circle cx="52.8" cy="369.5" r="0.75"/>
<circle cx="64.8" cy="370.4" r="0.75"/>
<circle cx="66.6" cy="371.4" r="0.75"/>
<circle cx="67.5" cy="373.2" r="0.75"/>
<circle cx="64.3" cy="374.6" r="0.75"/>
<circle cx="66.2" cy="376.4" r="0.75"/>
<circle cx="73.5" cy="374.1" r="0.75"/>
<circle cx="81.4" cy="373.2" r="0.75"/>
<circle cx="84.6" cy="371.4" r="0.75"/>
<circle cx="89.7" cy="372.7" r="0.75"/>
<circle cx="63.4" cy="378.3" r="0.75"/>
<circle cx="68.5" cy="377.8" r="0.75"/>
<circle cx="70.8" cy="376.0" r="0.75"/>
<circle cx="68.0" cy="380.6" r="0.75"/>
<circle cx="70.3" cy="380.6" r="0.75"/>
<circle cx="72.6" cy="380.1" r="0.75"/>
<circle cx="74.5" cy="380.1" r="0.75"/>
<circle cx="77.7" cy="378.7" r="0.75"/>
<circle cx="80.9" cy="379.7" r="0.75"/>
<circle cx="82.8" cy="376.0" r="0.75"/>
<circle cx="87.4" cy="376.4" r="0.75"/>
<circle cx="89.2" cy="377.4" r="0.75"/>
<circle cx="81.4" cy="383.4" r="0.75"/>
<circle cx="60.2" cy="382.4" r="0.75"/>
<circle cx="57.9" cy="385.2" r="0.75"/>
<circle cx="65.2" cy="385.2" r="0.75"/>
<circle cx="114.2" cy="343.7" r="0.75"/>
<circle cx="116.9" cy="346.0" r="0.75"/>
<circle cx="111.4" cy="348.3" r="0.75"/>
<circle cx="106.8" cy="349.7" r="0.75"/>
<circle cx="123.9" cy="350.6" r="0.75"/>
<circle cx="128.9" cy="343.7" r="0.75"/>
<circle cx="131.2" cy="344.2" r="0.75"/>
<circle cx="97.1" cy="351.1" r="0.75"/>
<circle cx="99.8" cy="354.3" r="0.75"/>
<circle cx="96.2" cy="356.6" r="0.75"/>
<circle cx="98.9" cy="357.1" r="0.75"/>
<circle cx="128.9" cy="353.9" r="0.75"/>
<circle cx="130.8" cy="357.1" r="0.75"/>
<circle cx="118.8" cy="357.1" r="0.75"/>
<circle cx="114.2" cy="358.5" r="0.75"/>
<circle cx="116.5" cy="359.9" r="0.75"/>
<circle cx="119.7" cy="360.3" r="0.75"/>
<circle cx="106.8" cy="359.9" r="0.75"/>
<circle cx="105.9" cy="361.7" r="0.75"/>
<circle cx="97.1" cy="363.1" r="0.75"/>
<circle cx="108.2" cy="364.0" r="0.75"/>
<circle cx="112.3" cy="364.0" r="0.75"/>
<circle cx="116.5" cy="364.0" r="0.75"/>
<circle cx="121.5" cy="363.1" r="0.75"/>
<circle cx="120.6" cy="366.3" r="0.75"/>
<circle cx="124.3" cy="367.7" r="0.75"/>
<circle cx="127.1" cy="365.4" r="0.75"/>
<circle cx="129.9" cy="364.0" r="0.75"/>
<circle cx="131.7" cy="361.7" r="0.75"/>
<circle cx="134.0" cy="360.8" r="0.75"/>
<circle cx="136.3" cy="358.9" r="0.75"/>
<circle cx="137.2" cy="364.9" r="0.75"/>
<circle cx="136.3" cy="367.7" r="0.75"/>
<circle cx="98.0" cy="366.8" r="0.75"/>
<circle cx="99.8" cy="366.8" r="0.75"/>
<circle cx="94.3" cy="368.6" r="0.75"/>
<circle cx="112.3" cy="369.1" r="0.75"/>
<circle cx="94.8" cy="372.1" r="0.75"/>
<circle cx="94.3" cy="374.4" r="0.75"/>
<circle cx="96.2" cy="377.7" r="0.75"/>
<circle cx="98.5" cy="377.2" r="0.75"/>
<circle cx="99.8" cy="380.0" r="0.75"/>
<circle cx="104.5" cy="376.7" r="0.75"/>
<circle cx="104.5" cy="378.6" r="0.75"/>
<circle cx="108.2" cy="379.0" r="0.75"/>
<circle cx="110.5" cy="380.9" r="0.75"/>
<circle cx="111.9" cy="380.9" r="0.75"/>
<circle cx="111.4" cy="375.4" r="0.75"/>
<circle cx="114.2" cy="373.0" r="0.75"/>
<circle cx="114.2" cy="376.3" r="0.75"/>
<circle cx="116.5" cy="376.7" r="0.75"/>
<circle cx="118.8" cy="378.6" r="0.75"/>
<circle cx="121.5" cy="376.7" r="0.75"/>
<circle cx="119.2" cy="381.4" r="0.75"/>
<circle cx="122.9" cy="380.4" r="0.75"/>
<circle cx="125.7" cy="378.1" r="0.75"/>
<circle cx="126.2" cy="373.0" r="0.75"/>
<circle cx="129.9" cy="380.9" r="0.75"/>
<circle cx="133.6" cy="382.7" r="0.75"/>
<circle cx="138.2" cy="379.5" r="0.75"/>
<circle cx="113.7" cy="384.1" r="0.75"/>
<circle cx="116.5" cy="383.2" r="0.75"/>
<circle cx="116.5" cy="385.5" r="0.75"/>
<circle cx="134.0" cy="373.5" r="0.75"/>
<circle cx="136.3" cy="374.4" r="0.75"/>
<circle cx="138.2" cy="374.4" r="0.75"/>
</g>
<text transform="translate(11.0,233) scale(0.98,1)" font-family="Liberation Sans, sans-serif" font-size="15.4" fill="#111" stroke="#111" stroke-width="0.2">C</text>
<text transform="translate(150.7,410) scale(0.91,1)" font-family="Liberation Sans, sans-serif" font-size="10.8" fill="#1e1e1e" stroke="#1e1e1e" stroke-width="0.32" text-anchor="middle">Heart T2* (ms)</text>
<text transform="translate(27.7,320.3) rotate(-90) scale(0.967,1)" font-family="Liberation Sans, sans-serif" font-size="9.6" fill="#1e1e1e" stroke="#1e1e1e" stroke-width="0.32" text-anchor="middle">RV end-systolic volume index (mL/m²)</text>
<line x1="302.6" y1="249" x2="302.6" y2="386.2" stroke="#b4b4b4" stroke-width="1"/>
<line x1="302.6" y1="386.2" x2="500" y2="386.2" stroke="#b4b4b4" stroke-width="1"/>
<line x1="302.6" y1="386.2" x2="302.6" y2="388.2" stroke="#b4b4b4" stroke-width="1"/>
<line x1="359.1" y1="386.2" x2="359.1" y2="388.2" stroke="#b4b4b4" stroke-width="1"/>
<line x1="415.7" y1="386.2" x2="415.7" y2="388.2" stroke="#b4b4b4" stroke-width="1"/>
<line x1="472.2" y1="386.2" x2="472.2" y2="388.2" stroke="#b4b4b4" stroke-width="1"/>
<line x1="300.6" y1="386.2" x2="302.6" y2="386.2" stroke="#b4b4b4" stroke-width="1"/>
<line x1="300.6" y1="346.9" x2="302.6" y2="346.9" stroke="#b4b4b4" stroke-width="1"/>
<line x1="300.6" y1="307.5" x2="302.6" y2="307.5" stroke="#b4b4b4" stroke-width="1"/>
<line x1="300.6" y1="268.2" x2="302.6" y2="268.2" stroke="#b4b4b4" stroke-width="1"/>
<text transform="translate(302.6,400.4) scale(0.85,1)" font-family="Liberation Sans, sans-serif" font-size="6.8" fill="#2a2a2a" stroke="#2a2a2a" stroke-width="0.15" text-anchor="middle">20</text>
<text transform="translate(359.1,400.4) scale(0.85,1)" font-family="Liberation Sans, sans-serif" font-size="6.8" fill="#2a2a2a" stroke="#2a2a2a" stroke-width="0.15" text-anchor="middle">40</text>
<text transform="translate(415.7,400.4) scale(0.85,1)" font-family="Liberation Sans, sans-serif" font-size="6.8" fill="#2a2a2a" stroke="#2a2a2a" stroke-width="0.15" text-anchor="middle">60</text>
<text transform="translate(472.2,400.4) scale(0.85,1)" font-family="Liberation Sans, sans-serif" font-size="6.8" fill="#2a2a2a" stroke="#2a2a2a" stroke-width="0.15" text-anchor="middle">80</text>
<text transform="translate(292,388.6) scale(0.85,1)" font-family="Liberation Sans, sans-serif" font-size="6.8" fill="#2a2a2a" stroke="#2a2a2a" stroke-width="0.15" text-anchor="middle">20</text>
<text transform="translate(292,349.3) scale(0.85,1)" font-family="Liberation Sans, sans-serif" font-size="6.8" fill="#2a2a2a" stroke="#2a2a2a" stroke-width="0.15" text-anchor="middle">40</text>
<text transform="translate(292,310.0) scale(0.85,1)" font-family="Liberation Sans, sans-serif" font-size="6.8" fill="#2a2a2a" stroke="#2a2a2a" stroke-width="0.15" text-anchor="middle">60</text>
<text transform="translate(292,270.6) scale(0.85,1)" font-family="Liberation Sans, sans-serif" font-size="6.8" fill="#2a2a2a" stroke="#2a2a2a" stroke-width="0.15" text-anchor="middle">80</text>
<g fill="#6d9ad8" fill-opacity="0.5">
<circle cx="382.7" cy="298.1" r="1.5"/>
<circle cx="387.5" cy="306.2" r="1.5"/>
<circle cx="392.3" cy="308.1" r="1.5"/>
<circle cx="396.2" cy="306.2" r="1.5"/>
<circle cx="399.0" cy="300.4" r="1.5"/>
<circle cx="387.5" cy="316.3" r="1.5"/>
<circle cx="376.9" cy="321.5" r="1.5"/>
<circle cx="378.8" cy="321.5" r="1.5"/>
<circle cx="480.8" cy="292.2" r="1.5"/>
<circle cx="401.7" cy="309.6" r="1.5"/>
<circle cx="402.3" cy="314.2" r="1.5"/>
<circle cx="401.7" cy="320.0" r="1.5"/>
<circle cx="454.2" cy="302.7" r="1.5"/>
<circle cx="455.4" cy="311.9" r="1.5"/>
<circle cx="453.1" cy="315.4" r="1.5"/>
<circle cx="457.7" cy="300.4" r="1.5"/>
<circle cx="464.0" cy="301.5" r="1.5"/>
<circle cx="475.6" cy="303.8" r="1.5"/>
<circle cx="469.2" cy="305.9" r="1.5"/>
<circle cx="466.7" cy="307.9" r="1.5"/>
<circle cx="464.0" cy="311.7" r="1.5"/>
<circle cx="461.4" cy="319.8" r="1.5"/>
<circle cx="398.8" cy="313.7" r="1.5"/>
<circle cx="396.5" cy="317.7" r="1.5"/>
<circle cx="341.3" cy="334.6" r="1.5"/>
<circle cx="361.9" cy="338.5" r="1.5"/>
<circle cx="361.9" cy="344.2" r="1.5"/>
<circle cx="371.2" cy="334.6" r="1.5"/>
<circle cx="336.2" cy="361.9" r="1.5"/>
<circle cx="307.3" cy="376.0" r="1.5"/>
<circle cx="435.6" cy="332.7" r="1.5"/>
<circle cx="423.9" cy="281.9" r="1.5"/>
<circle cx="423.9" cy="284.2" r="1.5"/>
<circle cx="427.1" cy="284.2" r="1.5"/>
<circle cx="415.5" cy="289.7" r="1.5"/>
<circle cx="422.5" cy="288.3" r="1.5"/>
<circle cx="427.5" cy="288.8" r="1.5"/>
<circle cx="464.0" cy="266.6" r="1.5"/>
<circle cx="477.9" cy="280.3" r="1.5"/>
<circle cx="484.8" cy="290.2" r="1.5"/>
<circle cx="408.2" cy="297.8" r="1.5"/>
<circle cx="408.2" cy="302.5" r="1.5"/>
<circle cx="408.2" cy="305.2" r="1.5"/>
<circle cx="408.2" cy="309.9" r="1.5"/>
<circle cx="413.2" cy="300.2" r="1.5"/>
<circle cx="413.2" cy="304.8" r="1.5"/>
<circle cx="413.2" cy="308.5" r="1.5"/>
<circle cx="413.2" cy="311.2" r="1.5"/>
<circle cx="413.2" cy="314.0" r="1.5"/>
<circle cx="415.5" cy="303.9" r="1.5"/>
<circle cx="415.5" cy="306.6" r="1.5"/>
<circle cx="415.5" cy="309.9" r="1.5"/>
<circle cx="415.5" cy="313.1" r="1.5"/>
<circle cx="415.5" cy="315.9" r="1.5"/>
<circle cx="418.8" cy="297.4" r="1.5"/>
<circle cx="418.8" cy="306.2" r="1.5"/>
<circle cx="418.8" cy="309.9" r="1.5"/>
<circle cx="418.8" cy="312.6" r="1.5"/>
<circle cx="423.4" cy="291.8" r="1.5"/>
<circle cx="423.4" cy="295.5" r="1.5"/>
<circle cx="423.4" cy="300.6" r="1.5"/>
<circle cx="423.4" cy="307.1" r="1.5"/>
<circle cx="423.4" cy="309.9" r="1.5"/>
<circle cx="423.4" cy="312.2" r="1.5"/>
<circle cx="423.4" cy="314.9" r="1.5"/>
<circle cx="428.5" cy="300.6" r="1.5"/>
<circle cx="428.5" cy="303.9" r="1.5"/>
<circle cx="428.5" cy="306.6" r="1.5"/>
<circle cx="428.5" cy="310.3" r="1.5"/>
<circle cx="428.5" cy="312.6" r="1.5"/>
<circle cx="434.0" cy="300.2" r="1.5"/>
<circle cx="434.0" cy="303.4" r="1.5"/>
<circle cx="434.0" cy="306.2" r="1.5"/>
<circle cx="434.0" cy="308.5" r="1.5"/>
<circle cx="434.0" cy="311.2" r="1.5"/>
<circle cx="439.1" cy="300.2" r="1.5"/>
<circle cx="439.1" cy="303.9" r="1.5"/>
<circle cx="439.1" cy="307.1" r="1.5"/>
<circle cx="439.1" cy="309.9" r="1.5"/>
<circle cx="439.1" cy="312.6" r="1.5"/>
<circle cx="439.1" cy="314.9" r="1.5"/>
<circle cx="443.7" cy="301.1" r="1.5"/>
<circle cx="443.7" cy="304.3" r="1.5"/>
<circle cx="443.7" cy="308.5" r="1.5"/>
<circle cx="448.3" cy="301.1" r="1.5"/>
<circle cx="448.3" cy="303.9" r="1.5"/>
<circle cx="448.3" cy="307.5" r="1.5"/>
<circle cx="448.3" cy="311.7" r="1.5"/>
<circle cx="415.1" cy="290.5" r="1.5"/>
<circle cx="404.5" cy="294.2" r="1.5"/>
<circle cx="409.5" cy="296.5" r="1.5"/>
<circle cx="417.9" cy="297.8" r="1.5"/>
<circle cx="422.0" cy="291.8" r="1.5"/>
<circle cx="404.5" cy="309.4" r="1.5"/>
<circle cx="409.1" cy="316.8" r="1.5"/>
<circle cx="434.0" cy="315.9" r="1.5"/>
<circle cx="440.9" cy="318.2" r="1.5"/>
<circle cx="382.8" cy="326.7" r="1.5"/>
<circle cx="387.4" cy="324.9" r="1.5"/>
<circle cx="392.5" cy="324.4" r="1.5"/>
<circle cx="401.7" cy="319.8" r="1.5"/>
<circle cx="404.5" cy="319.8" r="1.5"/>
<circle cx="401.7" cy="321.7" r="1.5"/>
<circle cx="404.0" cy="323.5" r="1.5"/>
<circle cx="401.7" cy="326.7" r="1.5"/>
<circle cx="407.7" cy="321.7" r="1.5"/>
<circle cx="410.0" cy="321.7" r="1.5"/>
<circle cx="413.2" cy="324.9" r="1.5"/>
<circle cx="415.5" cy="323.5" r="1.5"/>
<circle cx="412.8" cy="329.0" r="1.5"/>
<circle cx="409.5" cy="330.9" r="1.5"/>
<circle cx="417.9" cy="329.0" r="1.5"/>
<circle cx="427.1" cy="330.9" r="1.5"/>
<circle cx="382.8" cy="346.1" r="1.5"/>
<circle cx="429.4" cy="291.2" r="1.5"/>
<circle cx="429.4" cy="294.0" r="1.5"/>
<circle cx="429.4" cy="297.7" r="1.5"/>
<circle cx="434.0" cy="288.5" r="1.5"/>
<circle cx="434.0" cy="291.2" r="1.5"/>
<circle cx="434.0" cy="294.0" r="1.5"/>
<circle cx="434.0" cy="296.8" r="1.5"/>
<circle cx="434.0" cy="299.1" r="1.5"/>
<circle cx="438.6" cy="288.0" r="1.5"/>
<circle cx="438.6" cy="290.3" r="1.5"/>
<circle cx="438.6" cy="293.1" r="1.5"/>
<circle cx="438.6" cy="295.4" r="1.5"/>
<circle cx="438.6" cy="297.7" r="1.5"/>
<circle cx="443.2" cy="282.0" r="1.5"/>
<circle cx="443.2" cy="283.9" r="1.5"/>
<circle cx="443.2" cy="288.0" r="1.5"/>
<circle cx="443.2" cy="290.8" r="1.5"/>
<circle cx="443.2" cy="294.0" r="1.5"/>
<circle cx="443.2" cy="296.8" r="1.5"/>
<circle cx="447.9" cy="280.2" r="1.5"/>
<circle cx="447.9" cy="282.9" r="1.5"/>
<circle cx="447.9" cy="285.7" r="1.5"/>
<circle cx="447.9" cy="288.5" r="1.5"/>
<circle cx="447.9" cy="291.2" r="1.5"/>
<circle cx="447.9" cy="294.0" r="1.5"/>
<circle cx="452.9" cy="281.5" r="1.5"/>
<circle cx="452.9" cy="284.8" r="1.5"/>
<circle cx="452.9" cy="288.0" r="1.5"/>
<circle cx="452.9" cy="290.3" r="1.5"/>
<circle cx="452.9" cy="294.5" r="1.5"/>
<circle cx="452.9" cy="296.8" r="1.5"/>
<circle cx="455.2" cy="283.9" r="1.5"/>
<circle cx="455.2" cy="286.6" r="1.5"/>
<circle cx="455.2" cy="290.3" r="1.5"/>
<circle cx="455.2" cy="292.2" r="1.5"/>
<circle cx="459.4" cy="282.0" r="1.5"/>
<circle cx="459.4" cy="284.8" r="1.5"/>
<circle cx="459.4" cy="291.2" r="1.5"/>
<circle cx="459.4" cy="294.0" r="1.5"/>
<circle cx="459.4" cy="296.8" r="1.5"/>
<circle cx="464.0" cy="291.2" r="1.5"/>
<circle cx="433.5" cy="272.3" r="1.5"/>
<circle cx="434.0" cy="276.5" r="1.5"/>
<circle cx="438.2" cy="276.5" r="1.5"/>
<circle cx="447.9" cy="272.3" r="1.5"/>
<circle cx="452.9" cy="272.3" r="1.5"/>
<circle cx="452.9" cy="276.5" r="1.5"/>
<circle cx="460.8" cy="274.2" r="1.5"/>
<circle cx="461.2" cy="280.2" r="1.5"/>
<circle cx="466.3" cy="280.6" r="1.5"/>
<circle cx="464.0" cy="288.5" r="1.5"/>
<circle cx="465.9" cy="295.9" r="1.5"/>
<circle cx="474.2" cy="270.9" r="1.5"/>
<circle cx="464.0" cy="270.5" r="1.5"/>
<circle cx="474.2" cy="278.8" r="1.5"/>
</g>
<g fill="#2e3850" filter="url(#bl)">
<circle cx="382.7" cy="298.1" r="0.75"/>
<circle cx="387.5" cy="306.2" r="0.75"/>
<circle cx="392.3" cy="308.1" r="0.75"/>
<circle cx="396.2" cy="306.2" r="0.75"/>
<circle cx="399.0" cy="300.4" r="0.75"/>
<circle cx="387.5" cy="316.3" r="0.75"/>
<circle cx="376.9" cy="321.5" r="0.75"/>
<circle cx="378.8" cy="321.5" r="0.75"/>
<circle cx="480.8" cy="292.2" r="0.75"/>
<circle cx="401.7" cy="309.6" r="0.75"/>
<circle cx="402.3" cy="314.2" r="0.75"/>
<circle cx="401.7" cy="320.0" r="0.75"/>
<circle cx="454.2" cy="302.7" r="0.75"/>
<circle cx="455.4" cy="311.9" r="0.75"/>
<circle cx="453.1" cy="315.4" r="0.75"/>
<circle cx="457.7" cy="300.4" r="0.75"/>
<circle cx="464.0" cy="301.5" r="0.75"/>
<circle cx="475.6" cy="303.8" r="0.75"/>
<circle cx="469.2" cy="305.9" r="0.75"/>
<circle cx="466.7" cy="307.9" r="0.75"/>
<circle cx="464.0" cy="311.7" r="0.75"/>
<circle cx="461.4" cy="319.8" r="0.75"/>
<circle cx="398.8" cy="313.7" r="0.75"/>
<circle cx="396.5" cy="317.7" r="0.75"/>
<circle cx="341.3" cy="334.6" r="0.75"/>
<circle cx="361.9" cy="338.5" r="0.75"/>
<circle cx="361.9" cy="344.2" r="0.75"/>
<circle cx="371.2" cy="334.6" r="0.75"/>
<circle cx="336.2" cy="361.9" r="0.75"/>
<circle cx="307.3" cy="376.0" r="0.75"/>
<circle cx="435.6" cy="332.7" r="0.75"/>
<circle cx="423.9" cy="281.9" r="0.75"/>
<circle cx="423.9" cy="284.2" r="0.75"/>
<circle cx="427.1" cy="284.2" r="0.75"/>
<circle cx="415.5" cy="289.7" r="0.75"/>
<circle cx="422.5" cy="288.3" r="0.75"/>
<circle cx="427.5" cy="288.8" r="0.75"/>
<circle cx="464.0" cy="266.6" r="0.75"/>
<circle cx="477.9" cy="280.3" r="0.75"/>
<circle cx="484.8" cy="290.2" r="0.75"/>
<circle cx="408.2" cy="297.8" r="0.75"/>
<circle cx="408.2" cy="302.5" r="0.75"/>
<circle cx="408.2" cy="305.2" r="0.75"/>
<circle cx="408.2" cy="309.9" r="0.75"/>
<circle cx="413.2" cy="300.2" r="0.75"/>
<circle cx="413.2" cy="304.8" r="0.75"/>
<circle cx="413.2" cy="308.5" r="0.75"/>
<circle cx="413.2" cy="311.2" r="0.75"/>
<circle cx="413.2" cy="314.0" r="0.75"/>
<circle cx="415.5" cy="303.9" r="0.75"/>
<circle cx="415.5" cy="306.6" r="0.75"/>
<circle cx="415.5" cy="309.9" r="0.75"/>
<circle cx="415.5" cy="313.1" r="0.75"/>
<circle cx="415.5" cy="315.9" r="0.75"/>
<circle cx="418.8" cy="297.4" r="0.75"/>
<circle cx="418.8" cy="306.2" r="0.75"/>
<circle cx="418.8" cy="309.9" r="0.75"/>
<circle cx="418.8" cy="312.6" r="0.75"/>
<circle cx="423.4" cy="291.8" r="0.75"/>
<circle cx="423.4" cy="295.5" r="0.75"/>
<circle cx="423.4" cy="300.6" r="0.75"/>
<circle cx="423.4" cy="307.1" r="0.75"/>
<circle cx="423.4" cy="309.9" r="0.75"/>
<circle cx="423.4" cy="312.2" r="0.75"/>
<circle cx="423.4" cy="314.9" r="0.75"/>
<circle cx="428.5" cy="300.6" r="0.75"/>
<circle cx="428.5" cy="303.9" r="0.75"/>
<circle cx="428.5" cy="306.6" r="0.75"/>
<circle cx="428.5" cy="310.3" r="0.75"/>
<circle cx="428.5" cy="312.6" r="0.75"/>
<circle cx="434.0" cy="300.2" r="0.75"/>
<circle cx="434.0" cy="303.4" r="0.75"/>
<circle cx="434.0" cy="306.2" r="0.75"/>
<circle cx="434.0" cy="308.5" r="0.75"/>
<circle cx="434.0" cy="311.2" r="0.75"/>
<circle cx="439.1" cy="300.2" r="0.75"/>
<circle cx="439.1" cy="303.9" r="0.75"/>
<circle cx="439.1" cy="307.1" r="0.75"/>
<circle cx="439.1" cy="309.9" r="0.75"/>
<circle cx="439.1" cy="312.6" r="0.75"/>
<circle cx="439.1" cy="314.9" r="0.75"/>
<circle cx="443.7" cy="301.1" r="0.75"/>
<circle cx="443.7" cy="304.3" r="0.75"/>
<circle cx="443.7" cy="308.5" r="0.75"/>
<circle cx="448.3" cy="301.1" r="0.75"/>
<circle cx="448.3" cy="303.9" r="0.75"/>
<circle cx="448.3" cy="307.5" r="0.75"/>
<circle cx="448.3" cy="311.7" r="0.75"/>
<circle cx="415.1" cy="290.5" r="0.75"/>
<circle cx="404.5" cy="294.2" r="0.75"/>
<circle cx="409.5" cy="296.5" r="0.75"/>
<circle cx="417.9" cy="297.8" r="0.75"/>
<circle cx="422.0" cy="291.8" r="0.75"/>
<circle cx="404.5" cy="309.4" r="0.75"/>
<circle cx="409.1" cy="316.8" r="0.75"/>
<circle cx="434.0" cy="315.9" r="0.75"/>
<circle cx="440.9" cy="318.2" r="0.75"/>
<circle cx="382.8" cy="326.7" r="0.75"/>
<circle cx="387.4" cy="324.9" r="0.75"/>
<circle cx="392.5" cy="324.4" r="0.75"/>
<circle cx="401.7" cy="319.8" r="0.75"/>
<circle cx="404.5" cy="319.8" r="0.75"/>
<circle cx="401.7" cy="321.7" r="0.75"/>
<circle cx="404.0" cy="323.5" r="0.75"/>
<circle cx="401.7" cy="326.7" r="0.75"/>
<circle cx="407.7" cy="321.7" r="0.75"/>
<circle cx="410.0" cy="321.7" r="0.75"/>
<circle cx="413.2" cy="324.9" r="0.75"/>
<circle cx="415.5" cy="323.5" r="0.75"/>
<circle cx="412.8" cy="329.0" r="0.75"/>
<circle cx="409.5" cy="330.9" r="0.75"/>
<circle cx="417.9" cy="329.0" r="0.75"/>
<circle cx="427.1" cy="330.9" r="0.75"/>
<circle cx="382.8" cy="346.1" r="0.75"/>
<circle cx="429.4" cy="291.2" r="0.75"/>
<circle cx="429.4" cy="294.0" r="0.75"/>
<circle cx="429.4" cy="297.7" r="0.75"/>
<circle cx="434.0" cy="288.5" r="0.75"/>
<circle cx="434.0" cy="291.2" r="0.75"/>
<circle cx="434.0" cy="294.0" r="0.75"/>
<circle cx="434.0" cy="296.8" r="0.75"/>
<circle cx="434.0" cy="299.1" r="0.75"/>
<circle cx="438.6" cy="288.0" r="0.75"/>
<circle cx="438.6" cy="290.3" r="0.75"/>
<circle cx="438.6" cy="293.1" r="0.75"/>
<circle cx="438.6" cy="295.4" r="0.75"/>
<circle cx="438.6" cy="297.7" r="0.75"/>
<circle cx="443.2" cy="282.0" r="0.75"/>
<circle cx="443.2" cy="283.9" r="0.75"/>
<circle cx="443.2" cy="288.0" r="0.75"/>
<circle cx="443.2" cy="290.8" r="0.75"/>
<circle cx="443.2" cy="294.0" r="0.75"/>
<circle cx="443.2" cy="296.8" r="0.75"/>
<circle cx="447.9" cy="280.2" r="0.75"/>
<circle cx="447.9" cy="282.9" r="0.75"/>
<circle cx="447.9" cy="285.7" r="0.75"/>
<circle cx="447.9" cy="288.5" r="0.75"/>
<circle cx="447.9" cy="291.2" r="0.75"/>
<circle cx="447.9" cy="294.0" r="0.75"/>
<circle cx="452.9" cy="281.5" r="0.75"/>
<circle cx="452.9" cy="284.8" r="0.75"/>
<circle cx="452.9" cy="288.0" r="0.75"/>
<circle cx="452.9" cy="290.3" r="0.75"/>
<circle cx="452.9" cy="294.5" r="0.75"/>
<circle cx="452.9" cy="296.8" r="0.75"/>
<circle cx="455.2" cy="283.9" r="0.75"/>
<circle cx="455.2" cy="286.6" r="0.75"/>
<circle cx="455.2" cy="290.3" r="0.75"/>
<circle cx="455.2" cy="292.2" r="0.75"/>
<circle cx="459.4" cy="282.0" r="0.75"/>
<circle cx="459.4" cy="284.8" r="0.75"/>
<circle cx="459.4" cy="291.2" r="0.75"/>
<circle cx="459.4" cy="294.0" r="0.75"/>
<circle cx="459.4" cy="296.8" r="0.75"/>
<circle cx="464.0" cy="291.2" r="0.75"/>
<circle cx="433.5" cy="272.3" r="0.75"/>
<circle cx="434.0" cy="276.5" r="0.75"/>
<circle cx="438.2" cy="276.5" r="0.75"/>
<circle cx="447.9" cy="272.3" r="0.75"/>
<circle cx="452.9" cy="272.3" r="0.75"/>
<circle cx="452.9" cy="276.5" r="0.75"/>
<circle cx="460.8" cy="274.2" r="0.75"/>
<circle cx="461.2" cy="280.2" r="0.75"/>
<circle cx="466.3" cy="280.6" r="0.75"/>
<circle cx="464.0" cy="288.5" r="0.75"/>
<circle cx="465.9" cy="295.9" r="0.75"/>
<circle cx="474.2" cy="270.9" r="0.75"/>
<circle cx="464.0" cy="270.5" r="0.75"/>
<circle cx="474.2" cy="278.8" r="0.75"/>
</g>
<line x1="308.2" y1="354.4" x2="500.7" y2="274" stroke="#555" stroke-width="1"/>
<text transform="translate(272.2,234.8) scale(0.9,1)" font-family="Liberation Sans, sans-serif" font-size="15.4" fill="#111" stroke="#111" stroke-width="0.45">D</text>
<text transform="translate(413,410.8) scale(0.91,1)" font-family="Liberation Sans, sans-serif" font-size="10.8" fill="#1e1e1e" stroke="#1e1e1e" stroke-width="0.32" text-anchor="middle">LV ejection fraction (%)</text>
<text transform="translate(283.9,325) rotate(-90) scale(0.91,1)" font-family="Liberation Sans, sans-serif" font-size="10.8" fill="#1e1e1e" stroke="#1e1e1e" stroke-width="0.32" text-anchor="middle">RV ejection fraction (%)</text>
<line x1="261.5" y1="1" x2="261.5" y2="421" stroke="#777" stroke-width="1"/>
<line x1="2" y1="212" x2="519" y2="212" stroke="#888" stroke-width="1.4"/>
<line x1="2.5" y1="1" x2="2.5" y2="422" stroke="#1a1a1a" stroke-width="1.1"/>
<line x1="2" y1="1.5" x2="520" y2="1.5" stroke="#1a1a1a" stroke-width="1.1"/>
<line x1="519.2" y1="1" x2="519.2" y2="422" stroke="#111" stroke-width="1.6"/>
<line x1="2" y1="421.4" x2="520" y2="421.4" stroke="#1a1a1a" stroke-width="1.2"/>
</svg>
</body></html>
